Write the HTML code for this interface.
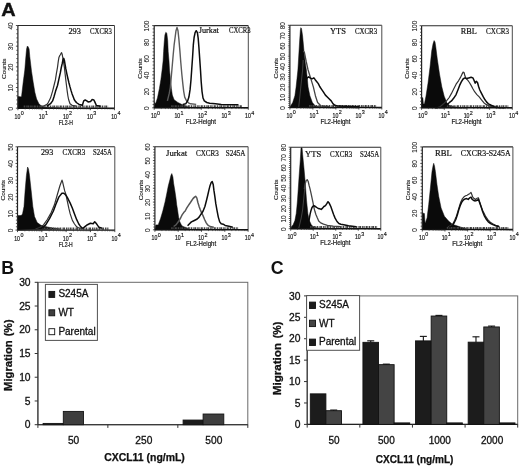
<!DOCTYPE html>
<html><head><meta charset="utf-8"><style>
html,body{margin:0;padding:0;background:#fff;}
svg{display:block;will-change:transform;}
text{-webkit-font-smoothing:antialiased;}
</style></head><body>
<svg width="520" height="466" viewBox="0 0 520 466">
<rect width="520" height="466" fill="#fff"/>
<g>
<polygon points="17.9,108.2 17.9,96.5 20.5,96.8 21.5,96.8 23.2,82.3 24.8,70.0 25.6,60.0 26.2,53.0 26.6,49.0 27.2,46.5 27.5,46.1 28.1,46.7 29.1,49.0 29.8,56.7 31.5,71.2 33.2,82.3 34.9,92.4 36.6,99.0 38.8,103.5 41.6,106.3 45.0,107.3 60.0,108.2" fill="#0a0a0a" stroke="#0a0a0a" stroke-width="0.5"/>
<polyline points="40.0,106.5 44.2,105.8 47.0,104.4 48.4,102.3 50.5,98.1 52.6,91.1 54.0,85.5 55.4,79.9 56.5,72.9 57.5,67.3 58.2,61.8 58.9,57.6 59.6,55.9 60.3,54.8 60.9,53.7 61.6,52.7 62.3,54.8 63.0,59.0 63.7,63.2 64.4,67.3 65.1,73.6 65.8,79.9 66.5,85.5 67.2,91.1 67.9,96.0 68.6,99.5 70.0,103.7 72.1,105.3 76.3,106.2" fill="none" stroke="#333" stroke-width="1.2" stroke-linejoin="round"/>
<line x1="23.7" y1="106.7" x2="108.3" y2="106.7" stroke="#444" stroke-width="2.2" stroke-dasharray="1.5 0.7 0.8 0.6 2 0.9"/>
<polyline points="47.0,106.2 50.5,103.7 52.6,100.9 54.0,96.7 55.6,91.1 57.5,85.5 58.9,79.2 60.3,72.9 61.2,68.0 62.3,63.2 63.0,59.7 63.7,58.3 64.4,60.4 65.1,64.6 65.8,68.7 66.8,73.6 67.9,78.5 68.9,82.7 70.0,86.9 71.0,90.4 72.1,93.9 73.2,96.7 74.2,99.5 75.6,101.6 77.0,103.0 79.1,104.4 81.9,105.1 82.3,105.5 83.7,100.9 85.2,100.0 86.8,100.9 88.1,101.9 90.6,101.5 92.0,99.6 93.9,100.0 94.8,101.9 96.4,105.5 100.6,106.3" fill="none" stroke="#0c0c0c" stroke-width="1.5" stroke-linejoin="round"/>
</g>
<line x1="17.9" y1="25.5" x2="114.5" y2="25.5" stroke="#2a2a2a" stroke-width="1.1"/>
<line x1="114.5" y1="25.5" x2="114.5" y2="108.2" stroke="#4a4a4a" stroke-width="1"/>
<line x1="17.9" y1="25.5" x2="17.9" y2="108.2" stroke="#222" stroke-width="1.2"/>
<line x1="17.9" y1="108.2" x2="114.5" y2="108.2" stroke="#111" stroke-width="1.4"/>
<line x1="15.899999999999999" y1="108.20" x2="17.9" y2="108.20" stroke="#222" stroke-width="0.8"/>
<text transform="translate(12.90,108.60) rotate(-90)" text-anchor="middle" font-family="Liberation Sans, sans-serif" font-size="6.5" fill="#1a1a1a" stroke="#1a1a1a" stroke-width="0.08">0</text>
<line x1="16.299999999999997" y1="104.06" x2="17.9" y2="104.06" stroke="#333" stroke-width="0.8"/>
<line x1="16.299999999999997" y1="99.93" x2="17.9" y2="99.93" stroke="#333" stroke-width="0.8"/>
<line x1="16.299999999999997" y1="95.80" x2="17.9" y2="95.80" stroke="#333" stroke-width="0.8"/>
<line x1="16.299999999999997" y1="91.66" x2="17.9" y2="91.66" stroke="#333" stroke-width="0.8"/>
<line x1="15.899999999999999" y1="87.53" x2="17.9" y2="87.53" stroke="#222" stroke-width="0.8"/>
<text transform="translate(12.90,87.93) rotate(-90)" text-anchor="middle" font-family="Liberation Sans, sans-serif" font-size="6.5" fill="#1a1a1a" stroke="#1a1a1a" stroke-width="0.08">10</text>
<line x1="16.299999999999997" y1="83.39" x2="17.9" y2="83.39" stroke="#333" stroke-width="0.8"/>
<line x1="16.299999999999997" y1="79.26" x2="17.9" y2="79.26" stroke="#333" stroke-width="0.8"/>
<line x1="16.299999999999997" y1="75.12" x2="17.9" y2="75.12" stroke="#333" stroke-width="0.8"/>
<line x1="16.299999999999997" y1="70.99" x2="17.9" y2="70.99" stroke="#333" stroke-width="0.8"/>
<line x1="15.899999999999999" y1="66.85" x2="17.9" y2="66.85" stroke="#222" stroke-width="0.8"/>
<text transform="translate(12.90,67.25) rotate(-90)" text-anchor="middle" font-family="Liberation Sans, sans-serif" font-size="6.5" fill="#1a1a1a" stroke="#1a1a1a" stroke-width="0.08">20</text>
<line x1="16.299999999999997" y1="62.71" x2="17.9" y2="62.71" stroke="#333" stroke-width="0.8"/>
<line x1="16.299999999999997" y1="58.58" x2="17.9" y2="58.58" stroke="#333" stroke-width="0.8"/>
<line x1="16.299999999999997" y1="54.44" x2="17.9" y2="54.44" stroke="#333" stroke-width="0.8"/>
<line x1="16.299999999999997" y1="50.31" x2="17.9" y2="50.31" stroke="#333" stroke-width="0.8"/>
<line x1="15.899999999999999" y1="46.17" x2="17.9" y2="46.17" stroke="#222" stroke-width="0.8"/>
<text transform="translate(12.90,46.57) rotate(-90)" text-anchor="middle" font-family="Liberation Sans, sans-serif" font-size="6.5" fill="#1a1a1a" stroke="#1a1a1a" stroke-width="0.08">30</text>
<line x1="16.299999999999997" y1="42.04" x2="17.9" y2="42.04" stroke="#333" stroke-width="0.8"/>
<line x1="16.299999999999997" y1="37.91" x2="17.9" y2="37.91" stroke="#333" stroke-width="0.8"/>
<line x1="16.299999999999997" y1="33.77" x2="17.9" y2="33.77" stroke="#333" stroke-width="0.8"/>
<line x1="16.299999999999997" y1="29.63" x2="17.9" y2="29.63" stroke="#333" stroke-width="0.8"/>
<line x1="15.899999999999999" y1="25.50" x2="17.9" y2="25.50" stroke="#222" stroke-width="0.8"/>
<text transform="translate(12.90,25.90) rotate(-90)" text-anchor="middle" font-family="Liberation Sans, sans-serif" font-size="6.5" fill="#1a1a1a" stroke="#1a1a1a" stroke-width="0.08">40</text>
<text transform="translate(5.60,68.65) rotate(-90)" text-anchor="middle" font-family="Liberation Sans, sans-serif" font-size="5.7" fill="#1a1a1a" stroke="#1a1a1a" stroke-width="0.12" textLength="20.5" lengthAdjust="spacingAndGlyphs">Counts</text>
<line x1="17.90" y1="108.2" x2="17.90" y2="110.2" stroke="#222" stroke-width="0.8"/>
<text x="17.50" y="118.70" text-anchor="middle" font-family="Liberation Sans, sans-serif" font-size="7.4" fill="#111" stroke="#111" stroke-width="0.2" textLength="5.8" lengthAdjust="spacingAndGlyphs">10</text>
<text x="20.80" y="115.10" font-family="Liberation Sans, sans-serif" font-size="5.4" fill="#111" stroke="#111" stroke-width="0.15">0</text>
<line x1="25.17" y1="108.2" x2="25.17" y2="109.5" stroke="#333" stroke-width="0.6"/>
<line x1="29.42" y1="108.2" x2="29.42" y2="109.5" stroke="#333" stroke-width="0.6"/>
<line x1="32.44" y1="108.2" x2="32.44" y2="109.5" stroke="#333" stroke-width="0.6"/>
<line x1="34.78" y1="108.2" x2="34.78" y2="109.5" stroke="#333" stroke-width="0.6"/>
<line x1="36.69" y1="108.2" x2="36.69" y2="109.5" stroke="#333" stroke-width="0.6"/>
<line x1="38.31" y1="108.2" x2="38.31" y2="109.5" stroke="#333" stroke-width="0.6"/>
<line x1="39.71" y1="108.2" x2="39.71" y2="109.5" stroke="#333" stroke-width="0.6"/>
<line x1="40.94" y1="108.2" x2="40.94" y2="109.5" stroke="#333" stroke-width="0.6"/>
<line x1="42.05" y1="108.2" x2="42.05" y2="110.2" stroke="#222" stroke-width="0.8"/>
<text x="41.65" y="118.70" text-anchor="middle" font-family="Liberation Sans, sans-serif" font-size="7.4" fill="#111" stroke="#111" stroke-width="0.2" textLength="5.8" lengthAdjust="spacingAndGlyphs">10</text>
<text x="44.95" y="115.10" font-family="Liberation Sans, sans-serif" font-size="5.4" fill="#111" stroke="#111" stroke-width="0.15">1</text>
<line x1="49.32" y1="108.2" x2="49.32" y2="109.5" stroke="#333" stroke-width="0.6"/>
<line x1="53.57" y1="108.2" x2="53.57" y2="109.5" stroke="#333" stroke-width="0.6"/>
<line x1="56.59" y1="108.2" x2="56.59" y2="109.5" stroke="#333" stroke-width="0.6"/>
<line x1="58.93" y1="108.2" x2="58.93" y2="109.5" stroke="#333" stroke-width="0.6"/>
<line x1="60.84" y1="108.2" x2="60.84" y2="109.5" stroke="#333" stroke-width="0.6"/>
<line x1="62.46" y1="108.2" x2="62.46" y2="109.5" stroke="#333" stroke-width="0.6"/>
<line x1="63.86" y1="108.2" x2="63.86" y2="109.5" stroke="#333" stroke-width="0.6"/>
<line x1="65.09" y1="108.2" x2="65.09" y2="109.5" stroke="#333" stroke-width="0.6"/>
<line x1="66.20" y1="108.2" x2="66.20" y2="110.2" stroke="#222" stroke-width="0.8"/>
<text x="65.80" y="118.70" text-anchor="middle" font-family="Liberation Sans, sans-serif" font-size="7.4" fill="#111" stroke="#111" stroke-width="0.2" textLength="5.8" lengthAdjust="spacingAndGlyphs">10</text>
<text x="69.10" y="115.10" font-family="Liberation Sans, sans-serif" font-size="5.4" fill="#111" stroke="#111" stroke-width="0.15">2</text>
<line x1="73.47" y1="108.2" x2="73.47" y2="109.5" stroke="#333" stroke-width="0.6"/>
<line x1="77.72" y1="108.2" x2="77.72" y2="109.5" stroke="#333" stroke-width="0.6"/>
<line x1="80.74" y1="108.2" x2="80.74" y2="109.5" stroke="#333" stroke-width="0.6"/>
<line x1="83.08" y1="108.2" x2="83.08" y2="109.5" stroke="#333" stroke-width="0.6"/>
<line x1="84.99" y1="108.2" x2="84.99" y2="109.5" stroke="#333" stroke-width="0.6"/>
<line x1="86.61" y1="108.2" x2="86.61" y2="109.5" stroke="#333" stroke-width="0.6"/>
<line x1="88.01" y1="108.2" x2="88.01" y2="109.5" stroke="#333" stroke-width="0.6"/>
<line x1="89.24" y1="108.2" x2="89.24" y2="109.5" stroke="#333" stroke-width="0.6"/>
<line x1="90.35" y1="108.2" x2="90.35" y2="110.2" stroke="#222" stroke-width="0.8"/>
<text x="89.95" y="118.70" text-anchor="middle" font-family="Liberation Sans, sans-serif" font-size="7.4" fill="#111" stroke="#111" stroke-width="0.2" textLength="5.8" lengthAdjust="spacingAndGlyphs">10</text>
<text x="93.25" y="115.10" font-family="Liberation Sans, sans-serif" font-size="5.4" fill="#111" stroke="#111" stroke-width="0.15">3</text>
<line x1="97.62" y1="108.2" x2="97.62" y2="109.5" stroke="#333" stroke-width="0.6"/>
<line x1="101.87" y1="108.2" x2="101.87" y2="109.5" stroke="#333" stroke-width="0.6"/>
<line x1="104.89" y1="108.2" x2="104.89" y2="109.5" stroke="#333" stroke-width="0.6"/>
<line x1="107.23" y1="108.2" x2="107.23" y2="109.5" stroke="#333" stroke-width="0.6"/>
<line x1="109.14" y1="108.2" x2="109.14" y2="109.5" stroke="#333" stroke-width="0.6"/>
<line x1="110.76" y1="108.2" x2="110.76" y2="109.5" stroke="#333" stroke-width="0.6"/>
<line x1="112.16" y1="108.2" x2="112.16" y2="109.5" stroke="#333" stroke-width="0.6"/>
<line x1="113.39" y1="108.2" x2="113.39" y2="109.5" stroke="#333" stroke-width="0.6"/>
<line x1="114.50" y1="108.2" x2="114.50" y2="110.2" stroke="#222" stroke-width="0.8"/>
<text x="114.10" y="118.70" text-anchor="middle" font-family="Liberation Sans, sans-serif" font-size="7.4" fill="#111" stroke="#111" stroke-width="0.2" textLength="5.8" lengthAdjust="spacingAndGlyphs">10</text>
<text x="117.40" y="115.10" font-family="Liberation Sans, sans-serif" font-size="5.4" fill="#111" stroke="#111" stroke-width="0.15">4</text>
<text x="65.80" y="124.60" text-anchor="middle" font-family="Liberation Sans, sans-serif" font-size="6.4" fill="#1a1a1a" stroke="#1a1a1a" stroke-width="0.2" textLength="14" lengthAdjust="spacingAndGlyphs">FL2-H</text>
<text x="68.4" y="34.1" font-family="Liberation Serif, serif" font-size="8.4" fill="#111" stroke="#111" stroke-width="0.2" textLength="12.5" lengthAdjust="spacingAndGlyphs">293</text>
<text x="90" y="34.1" font-family="Liberation Serif, serif" font-size="8.4" fill="#111" stroke="#111" stroke-width="0.2" textLength="21.8" lengthAdjust="spacingAndGlyphs">CXCR3</text>
<g>
<polygon points="154.2,107.8 154.6,102.4 155.7,103.4 157.5,97.8 159.4,88.6 160.9,79.4 162.1,70.1 163.1,60.9 163.6,51.7 164.2,42.5 164.9,35.1 165.8,32.3 166.8,33.2 167.7,40.6 168.2,51.7 169.0,60.9 169.5,70.1 170.5,79.4 171.4,88.6 172.3,95.0 174.1,99.7 177.8,102.4 181.5,104.3 190.0,107.8" fill="#0a0a0a" stroke="#0a0a0a" stroke-width="0.5"/>
<polyline points="167.4,100.9 169.3,93.2 170.3,87.5 171.2,77.8 172.2,66.3 173.2,54.8 174.1,45.2 175.1,37.5 176.0,30.7 177.0,27.5 178.0,30.7 178.9,39.4 179.9,50.9 180.8,62.5 181.8,74.0 182.8,83.6 183.7,91.3 184.7,97.1 186.6,100.9 188.5,102.8 190.5,103.8 196.2,104.4" fill="none" stroke="#5a5a5a" stroke-width="1.4" stroke-linejoin="round"/>
<line x1="171.2" y1="106.3" x2="242.4" y2="106.3" stroke="#444" stroke-width="2.2" stroke-dasharray="1.5 0.7 0.8 0.6 2 0.9"/>
<polyline points="182.8,104.4 185.7,103.8 187.6,100.9 188.9,97.1 190.1,89.4 191.0,79.8 191.8,68.2 192.6,56.7 193.3,45.2 194.1,37.5 195.1,32.7 196.2,30.7 197.4,32.7 198.2,38.4 198.9,47.1 199.7,58.6 200.5,70.2 201.2,81.7 202.0,91.3 203.0,98.0 204.3,100.9 206.8,102.5 209.7,103.2 215.5,103.8 221.2,104.4 238.5,104.8" fill="none" stroke="#0c0c0c" stroke-width="1.5" stroke-linejoin="round"/>
</g>
<line x1="154.2" y1="25.6" x2="248.3" y2="25.6" stroke="#2a2a2a" stroke-width="1.1"/>
<line x1="248.3" y1="25.6" x2="248.3" y2="107.8" stroke="#4a4a4a" stroke-width="1"/>
<line x1="154.2" y1="25.6" x2="154.2" y2="107.8" stroke="#222" stroke-width="1.2"/>
<line x1="154.2" y1="107.8" x2="248.3" y2="107.8" stroke="#111" stroke-width="1.4"/>
<line x1="152.2" y1="107.80" x2="154.2" y2="107.80" stroke="#222" stroke-width="0.8"/>
<text transform="translate(149.20,108.20) rotate(-90)" text-anchor="middle" font-family="Liberation Sans, sans-serif" font-size="6.5" fill="#1a1a1a" stroke="#1a1a1a" stroke-width="0.08">0</text>
<line x1="152.6" y1="104.51" x2="154.2" y2="104.51" stroke="#333" stroke-width="0.8"/>
<line x1="152.6" y1="101.22" x2="154.2" y2="101.22" stroke="#333" stroke-width="0.8"/>
<line x1="152.6" y1="97.94" x2="154.2" y2="97.94" stroke="#333" stroke-width="0.8"/>
<line x1="152.6" y1="94.65" x2="154.2" y2="94.65" stroke="#333" stroke-width="0.8"/>
<line x1="152.2" y1="91.36" x2="154.2" y2="91.36" stroke="#222" stroke-width="0.8"/>
<text transform="translate(149.20,91.76) rotate(-90)" text-anchor="middle" font-family="Liberation Sans, sans-serif" font-size="6.5" fill="#1a1a1a" stroke="#1a1a1a" stroke-width="0.08">20</text>
<line x1="152.6" y1="88.07" x2="154.2" y2="88.07" stroke="#333" stroke-width="0.8"/>
<line x1="152.6" y1="84.78" x2="154.2" y2="84.78" stroke="#333" stroke-width="0.8"/>
<line x1="152.6" y1="81.50" x2="154.2" y2="81.50" stroke="#333" stroke-width="0.8"/>
<line x1="152.6" y1="78.21" x2="154.2" y2="78.21" stroke="#333" stroke-width="0.8"/>
<line x1="152.2" y1="74.92" x2="154.2" y2="74.92" stroke="#222" stroke-width="0.8"/>
<text transform="translate(149.20,75.32) rotate(-90)" text-anchor="middle" font-family="Liberation Sans, sans-serif" font-size="6.5" fill="#1a1a1a" stroke="#1a1a1a" stroke-width="0.08">40</text>
<line x1="152.6" y1="71.63" x2="154.2" y2="71.63" stroke="#333" stroke-width="0.8"/>
<line x1="152.6" y1="68.34" x2="154.2" y2="68.34" stroke="#333" stroke-width="0.8"/>
<line x1="152.6" y1="65.06" x2="154.2" y2="65.06" stroke="#333" stroke-width="0.8"/>
<line x1="152.6" y1="61.77" x2="154.2" y2="61.77" stroke="#333" stroke-width="0.8"/>
<line x1="152.2" y1="58.48" x2="154.2" y2="58.48" stroke="#222" stroke-width="0.8"/>
<text transform="translate(149.20,58.88) rotate(-90)" text-anchor="middle" font-family="Liberation Sans, sans-serif" font-size="6.5" fill="#1a1a1a" stroke="#1a1a1a" stroke-width="0.08">60</text>
<line x1="152.6" y1="55.19" x2="154.2" y2="55.19" stroke="#333" stroke-width="0.8"/>
<line x1="152.6" y1="51.90" x2="154.2" y2="51.90" stroke="#333" stroke-width="0.8"/>
<line x1="152.6" y1="48.62" x2="154.2" y2="48.62" stroke="#333" stroke-width="0.8"/>
<line x1="152.6" y1="45.33" x2="154.2" y2="45.33" stroke="#333" stroke-width="0.8"/>
<line x1="152.2" y1="42.04" x2="154.2" y2="42.04" stroke="#222" stroke-width="0.8"/>
<text transform="translate(149.20,42.44) rotate(-90)" text-anchor="middle" font-family="Liberation Sans, sans-serif" font-size="6.5" fill="#1a1a1a" stroke="#1a1a1a" stroke-width="0.08">80</text>
<line x1="152.6" y1="38.75" x2="154.2" y2="38.75" stroke="#333" stroke-width="0.8"/>
<line x1="152.6" y1="35.46" x2="154.2" y2="35.46" stroke="#333" stroke-width="0.8"/>
<line x1="152.6" y1="32.18" x2="154.2" y2="32.18" stroke="#333" stroke-width="0.8"/>
<line x1="152.6" y1="28.89" x2="154.2" y2="28.89" stroke="#333" stroke-width="0.8"/>
<line x1="152.2" y1="25.60" x2="154.2" y2="25.60" stroke="#222" stroke-width="0.8"/>
<text transform="translate(149.20,26.00) rotate(-90)" text-anchor="middle" font-family="Liberation Sans, sans-serif" font-size="6.5" fill="#1a1a1a" stroke="#1a1a1a" stroke-width="0.08">100</text>
<text transform="translate(141.90,68.50) rotate(-90)" text-anchor="middle" font-family="Liberation Sans, sans-serif" font-size="5.7" fill="#1a1a1a" stroke="#1a1a1a" stroke-width="0.12" textLength="20.5" lengthAdjust="spacingAndGlyphs">Counts</text>
<line x1="154.20" y1="107.8" x2="154.20" y2="109.8" stroke="#222" stroke-width="0.8"/>
<text x="153.80" y="118.30" text-anchor="middle" font-family="Liberation Sans, sans-serif" font-size="7.4" fill="#111" stroke="#111" stroke-width="0.2" textLength="5.8" lengthAdjust="spacingAndGlyphs">10</text>
<text x="157.10" y="114.70" font-family="Liberation Sans, sans-serif" font-size="5.4" fill="#111" stroke="#111" stroke-width="0.15">0</text>
<line x1="161.28" y1="107.8" x2="161.28" y2="109.1" stroke="#333" stroke-width="0.6"/>
<line x1="165.42" y1="107.8" x2="165.42" y2="109.1" stroke="#333" stroke-width="0.6"/>
<line x1="168.36" y1="107.8" x2="168.36" y2="109.1" stroke="#333" stroke-width="0.6"/>
<line x1="170.64" y1="107.8" x2="170.64" y2="109.1" stroke="#333" stroke-width="0.6"/>
<line x1="172.51" y1="107.8" x2="172.51" y2="109.1" stroke="#333" stroke-width="0.6"/>
<line x1="174.08" y1="107.8" x2="174.08" y2="109.1" stroke="#333" stroke-width="0.6"/>
<line x1="175.45" y1="107.8" x2="175.45" y2="109.1" stroke="#333" stroke-width="0.6"/>
<line x1="176.65" y1="107.8" x2="176.65" y2="109.1" stroke="#333" stroke-width="0.6"/>
<line x1="177.72" y1="107.8" x2="177.72" y2="109.8" stroke="#222" stroke-width="0.8"/>
<text x="177.32" y="118.30" text-anchor="middle" font-family="Liberation Sans, sans-serif" font-size="7.4" fill="#111" stroke="#111" stroke-width="0.2" textLength="5.8" lengthAdjust="spacingAndGlyphs">10</text>
<text x="180.62" y="114.70" font-family="Liberation Sans, sans-serif" font-size="5.4" fill="#111" stroke="#111" stroke-width="0.15">1</text>
<line x1="184.81" y1="107.8" x2="184.81" y2="109.1" stroke="#333" stroke-width="0.6"/>
<line x1="188.95" y1="107.8" x2="188.95" y2="109.1" stroke="#333" stroke-width="0.6"/>
<line x1="191.89" y1="107.8" x2="191.89" y2="109.1" stroke="#333" stroke-width="0.6"/>
<line x1="194.17" y1="107.8" x2="194.17" y2="109.1" stroke="#333" stroke-width="0.6"/>
<line x1="196.03" y1="107.8" x2="196.03" y2="109.1" stroke="#333" stroke-width="0.6"/>
<line x1="197.61" y1="107.8" x2="197.61" y2="109.1" stroke="#333" stroke-width="0.6"/>
<line x1="198.97" y1="107.8" x2="198.97" y2="109.1" stroke="#333" stroke-width="0.6"/>
<line x1="200.17" y1="107.8" x2="200.17" y2="109.1" stroke="#333" stroke-width="0.6"/>
<line x1="201.25" y1="107.8" x2="201.25" y2="109.8" stroke="#222" stroke-width="0.8"/>
<text x="200.85" y="118.30" text-anchor="middle" font-family="Liberation Sans, sans-serif" font-size="7.4" fill="#111" stroke="#111" stroke-width="0.2" textLength="5.8" lengthAdjust="spacingAndGlyphs">10</text>
<text x="204.15" y="114.70" font-family="Liberation Sans, sans-serif" font-size="5.4" fill="#111" stroke="#111" stroke-width="0.15">2</text>
<line x1="208.33" y1="107.8" x2="208.33" y2="109.1" stroke="#333" stroke-width="0.6"/>
<line x1="212.47" y1="107.8" x2="212.47" y2="109.1" stroke="#333" stroke-width="0.6"/>
<line x1="215.41" y1="107.8" x2="215.41" y2="109.1" stroke="#333" stroke-width="0.6"/>
<line x1="217.69" y1="107.8" x2="217.69" y2="109.1" stroke="#333" stroke-width="0.6"/>
<line x1="219.56" y1="107.8" x2="219.56" y2="109.1" stroke="#333" stroke-width="0.6"/>
<line x1="221.13" y1="107.8" x2="221.13" y2="109.1" stroke="#333" stroke-width="0.6"/>
<line x1="222.50" y1="107.8" x2="222.50" y2="109.1" stroke="#333" stroke-width="0.6"/>
<line x1="223.70" y1="107.8" x2="223.70" y2="109.1" stroke="#333" stroke-width="0.6"/>
<line x1="224.78" y1="107.8" x2="224.78" y2="109.8" stroke="#222" stroke-width="0.8"/>
<text x="224.38" y="118.30" text-anchor="middle" font-family="Liberation Sans, sans-serif" font-size="7.4" fill="#111" stroke="#111" stroke-width="0.2" textLength="5.8" lengthAdjust="spacingAndGlyphs">10</text>
<text x="227.68" y="114.70" font-family="Liberation Sans, sans-serif" font-size="5.4" fill="#111" stroke="#111" stroke-width="0.15">3</text>
<line x1="231.86" y1="107.8" x2="231.86" y2="109.1" stroke="#333" stroke-width="0.6"/>
<line x1="236.00" y1="107.8" x2="236.00" y2="109.1" stroke="#333" stroke-width="0.6"/>
<line x1="238.94" y1="107.8" x2="238.94" y2="109.1" stroke="#333" stroke-width="0.6"/>
<line x1="241.22" y1="107.8" x2="241.22" y2="109.1" stroke="#333" stroke-width="0.6"/>
<line x1="243.08" y1="107.8" x2="243.08" y2="109.1" stroke="#333" stroke-width="0.6"/>
<line x1="244.66" y1="107.8" x2="244.66" y2="109.1" stroke="#333" stroke-width="0.6"/>
<line x1="246.02" y1="107.8" x2="246.02" y2="109.1" stroke="#333" stroke-width="0.6"/>
<line x1="247.22" y1="107.8" x2="247.22" y2="109.1" stroke="#333" stroke-width="0.6"/>
<line x1="248.30" y1="107.8" x2="248.30" y2="109.8" stroke="#222" stroke-width="0.8"/>
<text x="247.90" y="118.30" text-anchor="middle" font-family="Liberation Sans, sans-serif" font-size="7.4" fill="#111" stroke="#111" stroke-width="0.2" textLength="5.8" lengthAdjust="spacingAndGlyphs">10</text>
<text x="251.20" y="114.70" font-family="Liberation Sans, sans-serif" font-size="5.4" fill="#111" stroke="#111" stroke-width="0.15">4</text>
<text x="200.85" y="124.20" text-anchor="middle" font-family="Liberation Sans, sans-serif" font-size="6.4" fill="#1a1a1a" stroke="#1a1a1a" stroke-width="0.2" textLength="30" lengthAdjust="spacingAndGlyphs">FL2-Height</text>
<text x="198.7" y="32.8" font-family="Liberation Serif, serif" font-size="8.4" fill="#111" stroke="#111" stroke-width="0.2" textLength="20.2" lengthAdjust="spacingAndGlyphs">Jurkat</text>
<text x="229" y="32.8" font-family="Liberation Serif, serif" font-size="8.4" fill="#111" stroke="#111" stroke-width="0.2" textLength="21.6" lengthAdjust="spacingAndGlyphs">CXCR3</text>
<g>
<polygon points="289.9,107.5 290.6,106.0 292.7,102.6 294.9,95.7 296.1,87.1 297.0,78.6 297.9,70.0 298.8,55.0 299.7,40.0 300.4,30.0 300.8,27.7 301.5,28.5 302.6,36.0 304.1,52.4 305.3,63.0 306.4,70.0 307.3,78.6 308.1,87.1 309.9,95.7 312.4,102.6 315.4,106.0 320.0,107.0 325.0,107.5" fill="#0a0a0a" stroke="#0a0a0a" stroke-width="0.5"/>
<polyline points="303.3,50.8 304.4,52.4 306.2,61.5 308.1,70.0 309.4,74.3 310.8,78.6 313.4,87.1 315.4,95.7 317.6,102.5 320.8,105.8 330.0,107.0" fill="none" stroke="#444" stroke-width="1.3" stroke-linejoin="round"/>
<polyline points="303.2,60.0 302.6,70.0 301.5,80.0 300.5,90.0 299.5,100.0 298.7,107.0" fill="none" stroke="#505050" stroke-width="0.8" stroke-linejoin="round"/>
<line x1="309.1" y1="106.0" x2="376.4" y2="106.0" stroke="#444" stroke-width="2.2" stroke-dasharray="1.5 0.7 0.8 0.6 2 0.9"/>
<polyline points="304.8,99.9 305.2,86.5 306.0,80.7 307.2,77.8 308.7,76.8 310.0,77.8 312.0,78.8 313.9,77.8 315.2,79.7 316.8,81.7 318.3,83.6 319.7,86.5 321.6,89.3 323.5,92.2 325.4,95.1 327.3,97.0 329.3,99.0 331.2,100.9 333.1,103.8 335.0,105.3 337.9,106.1 359.1,106.7" fill="none" stroke="#0c0c0c" stroke-width="1.5" stroke-linejoin="round"/>
</g>
<line x1="289.9" y1="25.3" x2="381.8" y2="25.3" stroke="#2a2a2a" stroke-width="1.1"/>
<line x1="381.8" y1="25.3" x2="381.8" y2="107.5" stroke="#4a4a4a" stroke-width="1"/>
<line x1="289.9" y1="25.3" x2="289.9" y2="107.5" stroke="#222" stroke-width="1.2"/>
<line x1="289.9" y1="107.5" x2="381.8" y2="107.5" stroke="#111" stroke-width="1.4"/>
<line x1="287.9" y1="107.50" x2="289.9" y2="107.50" stroke="#222" stroke-width="0.8"/>
<text transform="translate(284.90,107.90) rotate(-90)" text-anchor="middle" font-family="Liberation Sans, sans-serif" font-size="6.5" fill="#1a1a1a" stroke="#1a1a1a" stroke-width="0.08">0</text>
<line x1="288.29999999999995" y1="105.44" x2="289.9" y2="105.44" stroke="#333" stroke-width="0.8"/>
<line x1="288.29999999999995" y1="103.39" x2="289.9" y2="103.39" stroke="#333" stroke-width="0.8"/>
<line x1="288.29999999999995" y1="101.33" x2="289.9" y2="101.33" stroke="#333" stroke-width="0.8"/>
<line x1="288.29999999999995" y1="99.28" x2="289.9" y2="99.28" stroke="#333" stroke-width="0.8"/>
<line x1="287.9" y1="97.22" x2="289.9" y2="97.22" stroke="#222" stroke-width="0.8"/>
<text transform="translate(284.90,97.62) rotate(-90)" text-anchor="middle" font-family="Liberation Sans, sans-serif" font-size="6.5" fill="#1a1a1a" stroke="#1a1a1a" stroke-width="0.08">10</text>
<line x1="288.29999999999995" y1="95.17" x2="289.9" y2="95.17" stroke="#333" stroke-width="0.8"/>
<line x1="288.29999999999995" y1="93.11" x2="289.9" y2="93.11" stroke="#333" stroke-width="0.8"/>
<line x1="288.29999999999995" y1="91.06" x2="289.9" y2="91.06" stroke="#333" stroke-width="0.8"/>
<line x1="288.29999999999995" y1="89.00" x2="289.9" y2="89.00" stroke="#333" stroke-width="0.8"/>
<line x1="287.9" y1="86.95" x2="289.9" y2="86.95" stroke="#222" stroke-width="0.8"/>
<text transform="translate(284.90,87.35) rotate(-90)" text-anchor="middle" font-family="Liberation Sans, sans-serif" font-size="6.5" fill="#1a1a1a" stroke="#1a1a1a" stroke-width="0.08">20</text>
<line x1="288.29999999999995" y1="84.89" x2="289.9" y2="84.89" stroke="#333" stroke-width="0.8"/>
<line x1="288.29999999999995" y1="82.84" x2="289.9" y2="82.84" stroke="#333" stroke-width="0.8"/>
<line x1="288.29999999999995" y1="80.78" x2="289.9" y2="80.78" stroke="#333" stroke-width="0.8"/>
<line x1="288.29999999999995" y1="78.73" x2="289.9" y2="78.73" stroke="#333" stroke-width="0.8"/>
<line x1="287.9" y1="76.67" x2="289.9" y2="76.67" stroke="#222" stroke-width="0.8"/>
<text transform="translate(284.90,77.08) rotate(-90)" text-anchor="middle" font-family="Liberation Sans, sans-serif" font-size="6.5" fill="#1a1a1a" stroke="#1a1a1a" stroke-width="0.08">30</text>
<line x1="288.29999999999995" y1="74.62" x2="289.9" y2="74.62" stroke="#333" stroke-width="0.8"/>
<line x1="288.29999999999995" y1="72.56" x2="289.9" y2="72.56" stroke="#333" stroke-width="0.8"/>
<line x1="288.29999999999995" y1="70.51" x2="289.9" y2="70.51" stroke="#333" stroke-width="0.8"/>
<line x1="288.29999999999995" y1="68.45" x2="289.9" y2="68.45" stroke="#333" stroke-width="0.8"/>
<line x1="287.9" y1="66.40" x2="289.9" y2="66.40" stroke="#222" stroke-width="0.8"/>
<text transform="translate(284.90,66.80) rotate(-90)" text-anchor="middle" font-family="Liberation Sans, sans-serif" font-size="6.5" fill="#1a1a1a" stroke="#1a1a1a" stroke-width="0.08">40</text>
<line x1="288.29999999999995" y1="64.34" x2="289.9" y2="64.34" stroke="#333" stroke-width="0.8"/>
<line x1="288.29999999999995" y1="62.29" x2="289.9" y2="62.29" stroke="#333" stroke-width="0.8"/>
<line x1="288.29999999999995" y1="60.24" x2="289.9" y2="60.24" stroke="#333" stroke-width="0.8"/>
<line x1="288.29999999999995" y1="58.18" x2="289.9" y2="58.18" stroke="#333" stroke-width="0.8"/>
<line x1="287.9" y1="56.12" x2="289.9" y2="56.12" stroke="#222" stroke-width="0.8"/>
<text transform="translate(284.90,56.52) rotate(-90)" text-anchor="middle" font-family="Liberation Sans, sans-serif" font-size="6.5" fill="#1a1a1a" stroke="#1a1a1a" stroke-width="0.08">50</text>
<line x1="288.29999999999995" y1="54.07" x2="289.9" y2="54.07" stroke="#333" stroke-width="0.8"/>
<line x1="288.29999999999995" y1="52.02" x2="289.9" y2="52.02" stroke="#333" stroke-width="0.8"/>
<line x1="288.29999999999995" y1="49.96" x2="289.9" y2="49.96" stroke="#333" stroke-width="0.8"/>
<line x1="288.29999999999995" y1="47.91" x2="289.9" y2="47.91" stroke="#333" stroke-width="0.8"/>
<line x1="287.9" y1="45.85" x2="289.9" y2="45.85" stroke="#222" stroke-width="0.8"/>
<text transform="translate(284.90,46.25) rotate(-90)" text-anchor="middle" font-family="Liberation Sans, sans-serif" font-size="6.5" fill="#1a1a1a" stroke="#1a1a1a" stroke-width="0.08">60</text>
<line x1="288.29999999999995" y1="43.79" x2="289.9" y2="43.79" stroke="#333" stroke-width="0.8"/>
<line x1="288.29999999999995" y1="41.74" x2="289.9" y2="41.74" stroke="#333" stroke-width="0.8"/>
<line x1="288.29999999999995" y1="39.68" x2="289.9" y2="39.68" stroke="#333" stroke-width="0.8"/>
<line x1="288.29999999999995" y1="37.63" x2="289.9" y2="37.63" stroke="#333" stroke-width="0.8"/>
<line x1="287.9" y1="35.58" x2="289.9" y2="35.58" stroke="#222" stroke-width="0.8"/>
<text transform="translate(284.90,35.98) rotate(-90)" text-anchor="middle" font-family="Liberation Sans, sans-serif" font-size="6.5" fill="#1a1a1a" stroke="#1a1a1a" stroke-width="0.08">70</text>
<line x1="288.29999999999995" y1="33.52" x2="289.9" y2="33.52" stroke="#333" stroke-width="0.8"/>
<line x1="288.29999999999995" y1="31.47" x2="289.9" y2="31.47" stroke="#333" stroke-width="0.8"/>
<line x1="288.29999999999995" y1="29.41" x2="289.9" y2="29.41" stroke="#333" stroke-width="0.8"/>
<line x1="288.29999999999995" y1="27.36" x2="289.9" y2="27.36" stroke="#333" stroke-width="0.8"/>
<line x1="287.9" y1="25.30" x2="289.9" y2="25.30" stroke="#222" stroke-width="0.8"/>
<text transform="translate(284.90,25.70) rotate(-90)" text-anchor="middle" font-family="Liberation Sans, sans-serif" font-size="6.5" fill="#1a1a1a" stroke="#1a1a1a" stroke-width="0.08">80</text>
<text transform="translate(277.60,68.20) rotate(-90)" text-anchor="middle" font-family="Liberation Sans, sans-serif" font-size="5.7" fill="#1a1a1a" stroke="#1a1a1a" stroke-width="0.12" textLength="20.5" lengthAdjust="spacingAndGlyphs">Counts</text>
<line x1="289.90" y1="107.5" x2="289.90" y2="109.5" stroke="#222" stroke-width="0.8"/>
<text x="289.50" y="118.00" text-anchor="middle" font-family="Liberation Sans, sans-serif" font-size="7.4" fill="#111" stroke="#111" stroke-width="0.2" textLength="5.8" lengthAdjust="spacingAndGlyphs">10</text>
<text x="292.80" y="114.40" font-family="Liberation Sans, sans-serif" font-size="5.4" fill="#111" stroke="#111" stroke-width="0.15">0</text>
<line x1="296.82" y1="107.5" x2="296.82" y2="108.8" stroke="#333" stroke-width="0.6"/>
<line x1="300.86" y1="107.5" x2="300.86" y2="108.8" stroke="#333" stroke-width="0.6"/>
<line x1="303.73" y1="107.5" x2="303.73" y2="108.8" stroke="#333" stroke-width="0.6"/>
<line x1="305.96" y1="107.5" x2="305.96" y2="108.8" stroke="#333" stroke-width="0.6"/>
<line x1="307.78" y1="107.5" x2="307.78" y2="108.8" stroke="#333" stroke-width="0.6"/>
<line x1="309.32" y1="107.5" x2="309.32" y2="108.8" stroke="#333" stroke-width="0.6"/>
<line x1="310.65" y1="107.5" x2="310.65" y2="108.8" stroke="#333" stroke-width="0.6"/>
<line x1="311.82" y1="107.5" x2="311.82" y2="108.8" stroke="#333" stroke-width="0.6"/>
<line x1="312.88" y1="107.5" x2="312.88" y2="109.5" stroke="#222" stroke-width="0.8"/>
<text x="312.48" y="118.00" text-anchor="middle" font-family="Liberation Sans, sans-serif" font-size="7.4" fill="#111" stroke="#111" stroke-width="0.2" textLength="5.8" lengthAdjust="spacingAndGlyphs">10</text>
<text x="315.77" y="114.40" font-family="Liberation Sans, sans-serif" font-size="5.4" fill="#111" stroke="#111" stroke-width="0.15">1</text>
<line x1="319.79" y1="107.5" x2="319.79" y2="108.8" stroke="#333" stroke-width="0.6"/>
<line x1="323.84" y1="107.5" x2="323.84" y2="108.8" stroke="#333" stroke-width="0.6"/>
<line x1="326.71" y1="107.5" x2="326.71" y2="108.8" stroke="#333" stroke-width="0.6"/>
<line x1="328.93" y1="107.5" x2="328.93" y2="108.8" stroke="#333" stroke-width="0.6"/>
<line x1="330.75" y1="107.5" x2="330.75" y2="108.8" stroke="#333" stroke-width="0.6"/>
<line x1="332.29" y1="107.5" x2="332.29" y2="108.8" stroke="#333" stroke-width="0.6"/>
<line x1="333.62" y1="107.5" x2="333.62" y2="108.8" stroke="#333" stroke-width="0.6"/>
<line x1="334.80" y1="107.5" x2="334.80" y2="108.8" stroke="#333" stroke-width="0.6"/>
<line x1="335.85" y1="107.5" x2="335.85" y2="109.5" stroke="#222" stroke-width="0.8"/>
<text x="335.45" y="118.00" text-anchor="middle" font-family="Liberation Sans, sans-serif" font-size="7.4" fill="#111" stroke="#111" stroke-width="0.2" textLength="5.8" lengthAdjust="spacingAndGlyphs">10</text>
<text x="338.75" y="114.40" font-family="Liberation Sans, sans-serif" font-size="5.4" fill="#111" stroke="#111" stroke-width="0.15">2</text>
<line x1="342.77" y1="107.5" x2="342.77" y2="108.8" stroke="#333" stroke-width="0.6"/>
<line x1="346.81" y1="107.5" x2="346.81" y2="108.8" stroke="#333" stroke-width="0.6"/>
<line x1="349.68" y1="107.5" x2="349.68" y2="108.8" stroke="#333" stroke-width="0.6"/>
<line x1="351.91" y1="107.5" x2="351.91" y2="108.8" stroke="#333" stroke-width="0.6"/>
<line x1="353.73" y1="107.5" x2="353.73" y2="108.8" stroke="#333" stroke-width="0.6"/>
<line x1="355.27" y1="107.5" x2="355.27" y2="108.8" stroke="#333" stroke-width="0.6"/>
<line x1="356.60" y1="107.5" x2="356.60" y2="108.8" stroke="#333" stroke-width="0.6"/>
<line x1="357.77" y1="107.5" x2="357.77" y2="108.8" stroke="#333" stroke-width="0.6"/>
<line x1="358.82" y1="107.5" x2="358.82" y2="109.5" stroke="#222" stroke-width="0.8"/>
<text x="358.43" y="118.00" text-anchor="middle" font-family="Liberation Sans, sans-serif" font-size="7.4" fill="#111" stroke="#111" stroke-width="0.2" textLength="5.8" lengthAdjust="spacingAndGlyphs">10</text>
<text x="361.72" y="114.40" font-family="Liberation Sans, sans-serif" font-size="5.4" fill="#111" stroke="#111" stroke-width="0.15">3</text>
<line x1="365.74" y1="107.5" x2="365.74" y2="108.8" stroke="#333" stroke-width="0.6"/>
<line x1="369.79" y1="107.5" x2="369.79" y2="108.8" stroke="#333" stroke-width="0.6"/>
<line x1="372.66" y1="107.5" x2="372.66" y2="108.8" stroke="#333" stroke-width="0.6"/>
<line x1="374.88" y1="107.5" x2="374.88" y2="108.8" stroke="#333" stroke-width="0.6"/>
<line x1="376.70" y1="107.5" x2="376.70" y2="108.8" stroke="#333" stroke-width="0.6"/>
<line x1="378.24" y1="107.5" x2="378.24" y2="108.8" stroke="#333" stroke-width="0.6"/>
<line x1="379.57" y1="107.5" x2="379.57" y2="108.8" stroke="#333" stroke-width="0.6"/>
<line x1="380.75" y1="107.5" x2="380.75" y2="108.8" stroke="#333" stroke-width="0.6"/>
<line x1="381.80" y1="107.5" x2="381.80" y2="109.5" stroke="#222" stroke-width="0.8"/>
<text x="381.40" y="118.00" text-anchor="middle" font-family="Liberation Sans, sans-serif" font-size="7.4" fill="#111" stroke="#111" stroke-width="0.2" textLength="5.8" lengthAdjust="spacingAndGlyphs">10</text>
<text x="384.70" y="114.40" font-family="Liberation Sans, sans-serif" font-size="5.4" fill="#111" stroke="#111" stroke-width="0.15">4</text>
<text x="335.45" y="123.90" text-anchor="middle" font-family="Liberation Sans, sans-serif" font-size="6.4" fill="#1a1a1a" stroke="#1a1a1a" stroke-width="0.2" textLength="30" lengthAdjust="spacingAndGlyphs">FL2-Height</text>
<text x="330" y="33.6" font-family="Liberation Serif, serif" font-size="8.4" fill="#111" stroke="#111" stroke-width="0.2" textLength="16" lengthAdjust="spacingAndGlyphs">YTS</text>
<text x="354.9" y="33.6" font-family="Liberation Serif, serif" font-size="8.4" fill="#111" stroke="#111" stroke-width="0.2" textLength="22.2" lengthAdjust="spacingAndGlyphs">CXCR3</text>
<g>
<polygon points="421.6,107.8 421.6,97.7 422.8,97.7 423.4,104.0 424.4,104.1 426.0,96.1 428.0,83.2 430.0,67.2 431.7,51.1 433.0,44.0 434.1,40.6 435.0,42.0 435.7,46.3 437.3,59.1 439.5,74.0 441.8,86.8 444.2,96.2 446.9,102.8 449.2,105.2 452.0,106.2 457.3,107.3 462.0,107.8" fill="#0a0a0a" stroke="#0a0a0a" stroke-width="0.5"/>
<polyline points="435.4,108.4 440.0,106.7 443.5,103.8 446.9,100.4 449.2,97.5 451.5,93.4 453.8,88.8 456.1,84.2 458.5,80.8 460.2,77.9 461.9,74.4 463.1,72.1 464.2,72.7 464.8,75.6 466.0,78.5 467.7,80.2 469.4,82.5 471.1,85.4 472.9,88.8 474.6,91.7 476.9,94.6 479.2,96.9 481.5,99.8 483.8,102.7 486.1,104.4 489.6,106.1 494.2,107.3 500.0,107.9" fill="none" stroke="#333" stroke-width="1.2" stroke-linejoin="round"/>
<line x1="446.8" y1="106.3" x2="508.4" y2="106.3" stroke="#444" stroke-width="2.2" stroke-dasharray="1.5 0.7 0.8 0.6 2 0.9"/>
<polyline points="444.6,106.7 449.2,102.7 451.5,100.9 453.8,98.1 456.1,94.6 457.9,90.0 459.6,85.4 461.3,81.9 463.1,79.0 464.8,77.9 466.5,78.5 468.8,77.9 471.1,77.3 472.9,77.9 474.0,80.2 475.2,83.1 476.3,81.3 477.5,82.5 478.6,86.5 479.8,90.0 481.5,93.4 483.3,96.9 485.0,99.8 486.7,102.1 488.4,103.8 490.7,105.0 494.2,106.7 497.7,107.3 504.6,107.9" fill="none" stroke="#0c0c0c" stroke-width="1.5" stroke-linejoin="round"/>
</g>
<line x1="421.6" y1="25.7" x2="512.3" y2="25.7" stroke="#2a2a2a" stroke-width="1.1"/>
<line x1="512.3" y1="25.7" x2="512.3" y2="107.8" stroke="#4a4a4a" stroke-width="1"/>
<line x1="421.6" y1="25.7" x2="421.6" y2="107.8" stroke="#222" stroke-width="1.2"/>
<line x1="421.6" y1="107.8" x2="512.3" y2="107.8" stroke="#111" stroke-width="1.4"/>
<line x1="419.6" y1="107.80" x2="421.6" y2="107.80" stroke="#222" stroke-width="0.8"/>
<text transform="translate(416.60,108.20) rotate(-90)" text-anchor="middle" font-family="Liberation Sans, sans-serif" font-size="6.5" fill="#1a1a1a" stroke="#1a1a1a" stroke-width="0.08">0</text>
<line x1="420.0" y1="104.52" x2="421.6" y2="104.52" stroke="#333" stroke-width="0.8"/>
<line x1="420.0" y1="101.23" x2="421.6" y2="101.23" stroke="#333" stroke-width="0.8"/>
<line x1="420.0" y1="97.95" x2="421.6" y2="97.95" stroke="#333" stroke-width="0.8"/>
<line x1="420.0" y1="94.66" x2="421.6" y2="94.66" stroke="#333" stroke-width="0.8"/>
<line x1="419.6" y1="91.38" x2="421.6" y2="91.38" stroke="#222" stroke-width="0.8"/>
<text transform="translate(416.60,91.78) rotate(-90)" text-anchor="middle" font-family="Liberation Sans, sans-serif" font-size="6.5" fill="#1a1a1a" stroke="#1a1a1a" stroke-width="0.08">20</text>
<line x1="420.0" y1="88.10" x2="421.6" y2="88.10" stroke="#333" stroke-width="0.8"/>
<line x1="420.0" y1="84.81" x2="421.6" y2="84.81" stroke="#333" stroke-width="0.8"/>
<line x1="420.0" y1="81.53" x2="421.6" y2="81.53" stroke="#333" stroke-width="0.8"/>
<line x1="420.0" y1="78.24" x2="421.6" y2="78.24" stroke="#333" stroke-width="0.8"/>
<line x1="419.6" y1="74.96" x2="421.6" y2="74.96" stroke="#222" stroke-width="0.8"/>
<text transform="translate(416.60,75.36) rotate(-90)" text-anchor="middle" font-family="Liberation Sans, sans-serif" font-size="6.5" fill="#1a1a1a" stroke="#1a1a1a" stroke-width="0.08">40</text>
<line x1="420.0" y1="71.68" x2="421.6" y2="71.68" stroke="#333" stroke-width="0.8"/>
<line x1="420.0" y1="68.39" x2="421.6" y2="68.39" stroke="#333" stroke-width="0.8"/>
<line x1="420.0" y1="65.11" x2="421.6" y2="65.11" stroke="#333" stroke-width="0.8"/>
<line x1="420.0" y1="61.82" x2="421.6" y2="61.82" stroke="#333" stroke-width="0.8"/>
<line x1="419.6" y1="58.54" x2="421.6" y2="58.54" stroke="#222" stroke-width="0.8"/>
<text transform="translate(416.60,58.94) rotate(-90)" text-anchor="middle" font-family="Liberation Sans, sans-serif" font-size="6.5" fill="#1a1a1a" stroke="#1a1a1a" stroke-width="0.08">60</text>
<line x1="420.0" y1="55.26" x2="421.6" y2="55.26" stroke="#333" stroke-width="0.8"/>
<line x1="420.0" y1="51.97" x2="421.6" y2="51.97" stroke="#333" stroke-width="0.8"/>
<line x1="420.0" y1="48.69" x2="421.6" y2="48.69" stroke="#333" stroke-width="0.8"/>
<line x1="420.0" y1="45.40" x2="421.6" y2="45.40" stroke="#333" stroke-width="0.8"/>
<line x1="419.6" y1="42.12" x2="421.6" y2="42.12" stroke="#222" stroke-width="0.8"/>
<text transform="translate(416.60,42.52) rotate(-90)" text-anchor="middle" font-family="Liberation Sans, sans-serif" font-size="6.5" fill="#1a1a1a" stroke="#1a1a1a" stroke-width="0.08">80</text>
<line x1="420.0" y1="38.84" x2="421.6" y2="38.84" stroke="#333" stroke-width="0.8"/>
<line x1="420.0" y1="35.55" x2="421.6" y2="35.55" stroke="#333" stroke-width="0.8"/>
<line x1="420.0" y1="32.27" x2="421.6" y2="32.27" stroke="#333" stroke-width="0.8"/>
<line x1="420.0" y1="28.98" x2="421.6" y2="28.98" stroke="#333" stroke-width="0.8"/>
<line x1="419.6" y1="25.70" x2="421.6" y2="25.70" stroke="#222" stroke-width="0.8"/>
<text transform="translate(416.60,26.10) rotate(-90)" text-anchor="middle" font-family="Liberation Sans, sans-serif" font-size="6.5" fill="#1a1a1a" stroke="#1a1a1a" stroke-width="0.08">100</text>
<text transform="translate(409.30,68.55) rotate(-90)" text-anchor="middle" font-family="Liberation Sans, sans-serif" font-size="5.7" fill="#1a1a1a" stroke="#1a1a1a" stroke-width="0.12" textLength="20.5" lengthAdjust="spacingAndGlyphs">Counts</text>
<line x1="421.60" y1="107.8" x2="421.60" y2="109.8" stroke="#222" stroke-width="0.8"/>
<text x="421.20" y="118.30" text-anchor="middle" font-family="Liberation Sans, sans-serif" font-size="7.4" fill="#111" stroke="#111" stroke-width="0.2" textLength="5.8" lengthAdjust="spacingAndGlyphs">10</text>
<text x="424.50" y="114.70" font-family="Liberation Sans, sans-serif" font-size="5.4" fill="#111" stroke="#111" stroke-width="0.15">0</text>
<line x1="428.43" y1="107.8" x2="428.43" y2="109.1" stroke="#333" stroke-width="0.6"/>
<line x1="432.42" y1="107.8" x2="432.42" y2="109.1" stroke="#333" stroke-width="0.6"/>
<line x1="435.25" y1="107.8" x2="435.25" y2="109.1" stroke="#333" stroke-width="0.6"/>
<line x1="437.45" y1="107.8" x2="437.45" y2="109.1" stroke="#333" stroke-width="0.6"/>
<line x1="439.24" y1="107.8" x2="439.24" y2="109.1" stroke="#333" stroke-width="0.6"/>
<line x1="440.76" y1="107.8" x2="440.76" y2="109.1" stroke="#333" stroke-width="0.6"/>
<line x1="442.08" y1="107.8" x2="442.08" y2="109.1" stroke="#333" stroke-width="0.6"/>
<line x1="443.24" y1="107.8" x2="443.24" y2="109.1" stroke="#333" stroke-width="0.6"/>
<line x1="444.27" y1="107.8" x2="444.27" y2="109.8" stroke="#222" stroke-width="0.8"/>
<text x="443.88" y="118.30" text-anchor="middle" font-family="Liberation Sans, sans-serif" font-size="7.4" fill="#111" stroke="#111" stroke-width="0.2" textLength="5.8" lengthAdjust="spacingAndGlyphs">10</text>
<text x="447.17" y="114.70" font-family="Liberation Sans, sans-serif" font-size="5.4" fill="#111" stroke="#111" stroke-width="0.15">1</text>
<line x1="451.10" y1="107.8" x2="451.10" y2="109.1" stroke="#333" stroke-width="0.6"/>
<line x1="455.09" y1="107.8" x2="455.09" y2="109.1" stroke="#333" stroke-width="0.6"/>
<line x1="457.93" y1="107.8" x2="457.93" y2="109.1" stroke="#333" stroke-width="0.6"/>
<line x1="460.12" y1="107.8" x2="460.12" y2="109.1" stroke="#333" stroke-width="0.6"/>
<line x1="461.92" y1="107.8" x2="461.92" y2="109.1" stroke="#333" stroke-width="0.6"/>
<line x1="463.44" y1="107.8" x2="463.44" y2="109.1" stroke="#333" stroke-width="0.6"/>
<line x1="464.75" y1="107.8" x2="464.75" y2="109.1" stroke="#333" stroke-width="0.6"/>
<line x1="465.91" y1="107.8" x2="465.91" y2="109.1" stroke="#333" stroke-width="0.6"/>
<line x1="466.95" y1="107.8" x2="466.95" y2="109.8" stroke="#222" stroke-width="0.8"/>
<text x="466.55" y="118.30" text-anchor="middle" font-family="Liberation Sans, sans-serif" font-size="7.4" fill="#111" stroke="#111" stroke-width="0.2" textLength="5.8" lengthAdjust="spacingAndGlyphs">10</text>
<text x="469.85" y="114.70" font-family="Liberation Sans, sans-serif" font-size="5.4" fill="#111" stroke="#111" stroke-width="0.15">2</text>
<line x1="473.78" y1="107.8" x2="473.78" y2="109.1" stroke="#333" stroke-width="0.6"/>
<line x1="477.77" y1="107.8" x2="477.77" y2="109.1" stroke="#333" stroke-width="0.6"/>
<line x1="480.60" y1="107.8" x2="480.60" y2="109.1" stroke="#333" stroke-width="0.6"/>
<line x1="482.80" y1="107.8" x2="482.80" y2="109.1" stroke="#333" stroke-width="0.6"/>
<line x1="484.59" y1="107.8" x2="484.59" y2="109.1" stroke="#333" stroke-width="0.6"/>
<line x1="486.11" y1="107.8" x2="486.11" y2="109.1" stroke="#333" stroke-width="0.6"/>
<line x1="487.43" y1="107.8" x2="487.43" y2="109.1" stroke="#333" stroke-width="0.6"/>
<line x1="488.59" y1="107.8" x2="488.59" y2="109.1" stroke="#333" stroke-width="0.6"/>
<line x1="489.62" y1="107.8" x2="489.62" y2="109.8" stroke="#222" stroke-width="0.8"/>
<text x="489.23" y="118.30" text-anchor="middle" font-family="Liberation Sans, sans-serif" font-size="7.4" fill="#111" stroke="#111" stroke-width="0.2" textLength="5.8" lengthAdjust="spacingAndGlyphs">10</text>
<text x="492.52" y="114.70" font-family="Liberation Sans, sans-serif" font-size="5.4" fill="#111" stroke="#111" stroke-width="0.15">3</text>
<line x1="496.45" y1="107.8" x2="496.45" y2="109.1" stroke="#333" stroke-width="0.6"/>
<line x1="500.44" y1="107.8" x2="500.44" y2="109.1" stroke="#333" stroke-width="0.6"/>
<line x1="503.28" y1="107.8" x2="503.28" y2="109.1" stroke="#333" stroke-width="0.6"/>
<line x1="505.47" y1="107.8" x2="505.47" y2="109.1" stroke="#333" stroke-width="0.6"/>
<line x1="507.27" y1="107.8" x2="507.27" y2="109.1" stroke="#333" stroke-width="0.6"/>
<line x1="508.79" y1="107.8" x2="508.79" y2="109.1" stroke="#333" stroke-width="0.6"/>
<line x1="510.10" y1="107.8" x2="510.10" y2="109.1" stroke="#333" stroke-width="0.6"/>
<line x1="511.26" y1="107.8" x2="511.26" y2="109.1" stroke="#333" stroke-width="0.6"/>
<line x1="512.30" y1="107.8" x2="512.30" y2="109.8" stroke="#222" stroke-width="0.8"/>
<text x="511.90" y="118.30" text-anchor="middle" font-family="Liberation Sans, sans-serif" font-size="7.4" fill="#111" stroke="#111" stroke-width="0.2" textLength="5.8" lengthAdjust="spacingAndGlyphs">10</text>
<text x="515.20" y="114.70" font-family="Liberation Sans, sans-serif" font-size="5.4" fill="#111" stroke="#111" stroke-width="0.15">4</text>
<text x="466.55" y="124.20" text-anchor="middle" font-family="Liberation Sans, sans-serif" font-size="6.4" fill="#1a1a1a" stroke="#1a1a1a" stroke-width="0.2" textLength="30" lengthAdjust="spacingAndGlyphs">FL2-Height</text>
<text x="460.8" y="34.1" font-family="Liberation Serif, serif" font-size="8.4" fill="#111" stroke="#111" stroke-width="0.2" textLength="16.1" lengthAdjust="spacingAndGlyphs">RBL</text>
<text x="486.1" y="34.1" font-family="Liberation Serif, serif" font-size="8.4" fill="#111" stroke="#111" stroke-width="0.2" textLength="22.9" lengthAdjust="spacingAndGlyphs">CXCR3</text>
<g>
<polygon points="17.5,230.1 17.6,215.6 21.0,215.6 22.5,214.1 24.0,206.4 25.1,190.9 26.4,175.5 27.6,167.0 28.5,169.0 29.5,175.5 31.2,190.9 32.8,206.4 34.5,216.5 37.2,222.5 41.0,225.3 44.0,226.2 50.0,227.5 60.0,229.0" fill="#0a0a0a" stroke="#0a0a0a" stroke-width="0.5"/>
<polyline points="35.5,229.0 39.5,227.5 43.5,224.9 47.3,219.5 51.2,212.6 54.4,204.8 57.5,194.0 60.0,185.5 62.0,180.1 62.7,182.3 63.7,186.6 64.7,190.9 65.9,194.5 67.3,201.0 68.8,208.2 70.2,213.9 72.4,220.4 74.5,224.0 76.7,226.9 78.8,228.0 83.0,228.6" fill="none" stroke="#333" stroke-width="1.2" stroke-linejoin="round"/>
<line x1="40.0" y1="228.6" x2="109.0" y2="228.6" stroke="#444" stroke-width="2.2" stroke-dasharray="1.5 0.7 0.8 0.6 2 0.9"/>
<polyline points="40.0,228.6 42.0,228.0 45.7,224.9 49.5,218.7 53.4,211.0 55.7,204.8 58.8,197.1 61.9,193.2 63.5,193.2 64.5,193.8 65.9,195.2 67.3,197.4 68.8,200.3 70.2,203.1 72.4,208.2 74.5,213.9 76.7,219.7 78.8,224.0 80.3,226.2 81.7,227.6 83.2,228.0 84.6,226.9 87.5,224.7 90.4,223.3 93.2,223.7 94.7,221.8 96.1,223.3 97.6,225.4 99.0,227.2 101.9,228.3" fill="none" stroke="#0c0c0c" stroke-width="1.5" stroke-linejoin="round"/>
</g>
<line x1="17.5" y1="146.8" x2="114.8" y2="146.8" stroke="#2a2a2a" stroke-width="1.1"/>
<line x1="114.8" y1="146.8" x2="114.8" y2="230.1" stroke="#4a4a4a" stroke-width="1"/>
<line x1="17.5" y1="146.8" x2="17.5" y2="230.1" stroke="#222" stroke-width="1.2"/>
<line x1="17.5" y1="230.1" x2="114.8" y2="230.1" stroke="#111" stroke-width="1.4"/>
<line x1="15.5" y1="230.10" x2="17.5" y2="230.10" stroke="#222" stroke-width="0.8"/>
<text transform="translate(12.50,230.50) rotate(-90)" text-anchor="middle" font-family="Liberation Sans, sans-serif" font-size="6.5" fill="#1a1a1a" stroke="#1a1a1a" stroke-width="0.08">0</text>
<line x1="15.9" y1="226.77" x2="17.5" y2="226.77" stroke="#333" stroke-width="0.8"/>
<line x1="15.9" y1="223.44" x2="17.5" y2="223.44" stroke="#333" stroke-width="0.8"/>
<line x1="15.9" y1="220.10" x2="17.5" y2="220.10" stroke="#333" stroke-width="0.8"/>
<line x1="15.9" y1="216.77" x2="17.5" y2="216.77" stroke="#333" stroke-width="0.8"/>
<line x1="15.5" y1="213.44" x2="17.5" y2="213.44" stroke="#222" stroke-width="0.8"/>
<text transform="translate(12.50,213.84) rotate(-90)" text-anchor="middle" font-family="Liberation Sans, sans-serif" font-size="6.5" fill="#1a1a1a" stroke="#1a1a1a" stroke-width="0.08">10</text>
<line x1="15.9" y1="210.11" x2="17.5" y2="210.11" stroke="#333" stroke-width="0.8"/>
<line x1="15.9" y1="206.78" x2="17.5" y2="206.78" stroke="#333" stroke-width="0.8"/>
<line x1="15.9" y1="203.44" x2="17.5" y2="203.44" stroke="#333" stroke-width="0.8"/>
<line x1="15.9" y1="200.11" x2="17.5" y2="200.11" stroke="#333" stroke-width="0.8"/>
<line x1="15.5" y1="196.78" x2="17.5" y2="196.78" stroke="#222" stroke-width="0.8"/>
<text transform="translate(12.50,197.18) rotate(-90)" text-anchor="middle" font-family="Liberation Sans, sans-serif" font-size="6.5" fill="#1a1a1a" stroke="#1a1a1a" stroke-width="0.08">20</text>
<line x1="15.9" y1="193.45" x2="17.5" y2="193.45" stroke="#333" stroke-width="0.8"/>
<line x1="15.9" y1="190.12" x2="17.5" y2="190.12" stroke="#333" stroke-width="0.8"/>
<line x1="15.9" y1="186.78" x2="17.5" y2="186.78" stroke="#333" stroke-width="0.8"/>
<line x1="15.9" y1="183.45" x2="17.5" y2="183.45" stroke="#333" stroke-width="0.8"/>
<line x1="15.5" y1="180.12" x2="17.5" y2="180.12" stroke="#222" stroke-width="0.8"/>
<text transform="translate(12.50,180.52) rotate(-90)" text-anchor="middle" font-family="Liberation Sans, sans-serif" font-size="6.5" fill="#1a1a1a" stroke="#1a1a1a" stroke-width="0.08">30</text>
<line x1="15.9" y1="176.79" x2="17.5" y2="176.79" stroke="#333" stroke-width="0.8"/>
<line x1="15.9" y1="173.46" x2="17.5" y2="173.46" stroke="#333" stroke-width="0.8"/>
<line x1="15.9" y1="170.12" x2="17.5" y2="170.12" stroke="#333" stroke-width="0.8"/>
<line x1="15.9" y1="166.79" x2="17.5" y2="166.79" stroke="#333" stroke-width="0.8"/>
<line x1="15.5" y1="163.46" x2="17.5" y2="163.46" stroke="#222" stroke-width="0.8"/>
<text transform="translate(12.50,163.86) rotate(-90)" text-anchor="middle" font-family="Liberation Sans, sans-serif" font-size="6.5" fill="#1a1a1a" stroke="#1a1a1a" stroke-width="0.08">40</text>
<line x1="15.9" y1="160.13" x2="17.5" y2="160.13" stroke="#333" stroke-width="0.8"/>
<line x1="15.9" y1="156.80" x2="17.5" y2="156.80" stroke="#333" stroke-width="0.8"/>
<line x1="15.9" y1="153.46" x2="17.5" y2="153.46" stroke="#333" stroke-width="0.8"/>
<line x1="15.9" y1="150.13" x2="17.5" y2="150.13" stroke="#333" stroke-width="0.8"/>
<line x1="15.5" y1="146.80" x2="17.5" y2="146.80" stroke="#222" stroke-width="0.8"/>
<text transform="translate(12.50,147.20) rotate(-90)" text-anchor="middle" font-family="Liberation Sans, sans-serif" font-size="6.5" fill="#1a1a1a" stroke="#1a1a1a" stroke-width="0.08">50</text>
<text transform="translate(5.20,190.25) rotate(-90)" text-anchor="middle" font-family="Liberation Sans, sans-serif" font-size="5.7" fill="#1a1a1a" stroke="#1a1a1a" stroke-width="0.12" textLength="20.5" lengthAdjust="spacingAndGlyphs">Counts</text>
<line x1="17.50" y1="230.1" x2="17.50" y2="232.1" stroke="#222" stroke-width="0.8"/>
<text x="17.10" y="240.60" text-anchor="middle" font-family="Liberation Sans, sans-serif" font-size="7.4" fill="#111" stroke="#111" stroke-width="0.2" textLength="5.8" lengthAdjust="spacingAndGlyphs">10</text>
<text x="20.40" y="237.00" font-family="Liberation Sans, sans-serif" font-size="5.4" fill="#111" stroke="#111" stroke-width="0.15">0</text>
<line x1="24.82" y1="230.1" x2="24.82" y2="231.4" stroke="#333" stroke-width="0.6"/>
<line x1="29.11" y1="230.1" x2="29.11" y2="231.4" stroke="#333" stroke-width="0.6"/>
<line x1="32.15" y1="230.1" x2="32.15" y2="231.4" stroke="#333" stroke-width="0.6"/>
<line x1="34.50" y1="230.1" x2="34.50" y2="231.4" stroke="#333" stroke-width="0.6"/>
<line x1="36.43" y1="230.1" x2="36.43" y2="231.4" stroke="#333" stroke-width="0.6"/>
<line x1="38.06" y1="230.1" x2="38.06" y2="231.4" stroke="#333" stroke-width="0.6"/>
<line x1="39.47" y1="230.1" x2="39.47" y2="231.4" stroke="#333" stroke-width="0.6"/>
<line x1="40.71" y1="230.1" x2="40.71" y2="231.4" stroke="#333" stroke-width="0.6"/>
<line x1="41.83" y1="230.1" x2="41.83" y2="232.1" stroke="#222" stroke-width="0.8"/>
<text x="41.43" y="240.60" text-anchor="middle" font-family="Liberation Sans, sans-serif" font-size="7.4" fill="#111" stroke="#111" stroke-width="0.2" textLength="5.8" lengthAdjust="spacingAndGlyphs">10</text>
<text x="44.73" y="237.00" font-family="Liberation Sans, sans-serif" font-size="5.4" fill="#111" stroke="#111" stroke-width="0.15">1</text>
<line x1="49.15" y1="230.1" x2="49.15" y2="231.4" stroke="#333" stroke-width="0.6"/>
<line x1="53.43" y1="230.1" x2="53.43" y2="231.4" stroke="#333" stroke-width="0.6"/>
<line x1="56.47" y1="230.1" x2="56.47" y2="231.4" stroke="#333" stroke-width="0.6"/>
<line x1="58.83" y1="230.1" x2="58.83" y2="231.4" stroke="#333" stroke-width="0.6"/>
<line x1="60.75" y1="230.1" x2="60.75" y2="231.4" stroke="#333" stroke-width="0.6"/>
<line x1="62.38" y1="230.1" x2="62.38" y2="231.4" stroke="#333" stroke-width="0.6"/>
<line x1="63.79" y1="230.1" x2="63.79" y2="231.4" stroke="#333" stroke-width="0.6"/>
<line x1="65.04" y1="230.1" x2="65.04" y2="231.4" stroke="#333" stroke-width="0.6"/>
<line x1="66.15" y1="230.1" x2="66.15" y2="232.1" stroke="#222" stroke-width="0.8"/>
<text x="65.75" y="240.60" text-anchor="middle" font-family="Liberation Sans, sans-serif" font-size="7.4" fill="#111" stroke="#111" stroke-width="0.2" textLength="5.8" lengthAdjust="spacingAndGlyphs">10</text>
<text x="69.05" y="237.00" font-family="Liberation Sans, sans-serif" font-size="5.4" fill="#111" stroke="#111" stroke-width="0.15">2</text>
<line x1="73.47" y1="230.1" x2="73.47" y2="231.4" stroke="#333" stroke-width="0.6"/>
<line x1="77.76" y1="230.1" x2="77.76" y2="231.4" stroke="#333" stroke-width="0.6"/>
<line x1="80.80" y1="230.1" x2="80.80" y2="231.4" stroke="#333" stroke-width="0.6"/>
<line x1="83.15" y1="230.1" x2="83.15" y2="231.4" stroke="#333" stroke-width="0.6"/>
<line x1="85.08" y1="230.1" x2="85.08" y2="231.4" stroke="#333" stroke-width="0.6"/>
<line x1="86.71" y1="230.1" x2="86.71" y2="231.4" stroke="#333" stroke-width="0.6"/>
<line x1="88.12" y1="230.1" x2="88.12" y2="231.4" stroke="#333" stroke-width="0.6"/>
<line x1="89.36" y1="230.1" x2="89.36" y2="231.4" stroke="#333" stroke-width="0.6"/>
<line x1="90.47" y1="230.1" x2="90.47" y2="232.1" stroke="#222" stroke-width="0.8"/>
<text x="90.07" y="240.60" text-anchor="middle" font-family="Liberation Sans, sans-serif" font-size="7.4" fill="#111" stroke="#111" stroke-width="0.2" textLength="5.8" lengthAdjust="spacingAndGlyphs">10</text>
<text x="93.38" y="237.00" font-family="Liberation Sans, sans-serif" font-size="5.4" fill="#111" stroke="#111" stroke-width="0.15">3</text>
<line x1="97.80" y1="230.1" x2="97.80" y2="231.4" stroke="#333" stroke-width="0.6"/>
<line x1="102.08" y1="230.1" x2="102.08" y2="231.4" stroke="#333" stroke-width="0.6"/>
<line x1="105.12" y1="230.1" x2="105.12" y2="231.4" stroke="#333" stroke-width="0.6"/>
<line x1="107.48" y1="230.1" x2="107.48" y2="231.4" stroke="#333" stroke-width="0.6"/>
<line x1="109.40" y1="230.1" x2="109.40" y2="231.4" stroke="#333" stroke-width="0.6"/>
<line x1="111.03" y1="230.1" x2="111.03" y2="231.4" stroke="#333" stroke-width="0.6"/>
<line x1="112.44" y1="230.1" x2="112.44" y2="231.4" stroke="#333" stroke-width="0.6"/>
<line x1="113.69" y1="230.1" x2="113.69" y2="231.4" stroke="#333" stroke-width="0.6"/>
<line x1="114.80" y1="230.1" x2="114.80" y2="232.1" stroke="#222" stroke-width="0.8"/>
<text x="114.40" y="240.60" text-anchor="middle" font-family="Liberation Sans, sans-serif" font-size="7.4" fill="#111" stroke="#111" stroke-width="0.2" textLength="5.8" lengthAdjust="spacingAndGlyphs">10</text>
<text x="117.70" y="237.00" font-family="Liberation Sans, sans-serif" font-size="5.4" fill="#111" stroke="#111" stroke-width="0.15">4</text>
<text x="65.75" y="246.50" text-anchor="middle" font-family="Liberation Sans, sans-serif" font-size="6.4" fill="#1a1a1a" stroke="#1a1a1a" stroke-width="0.2" textLength="14" lengthAdjust="spacingAndGlyphs">FL2-H</text>
<text x="41" y="155.2" font-family="Liberation Serif, serif" font-size="8.4" fill="#111" stroke="#111" stroke-width="0.2" textLength="12.2" lengthAdjust="spacingAndGlyphs">293</text>
<text x="62.4" y="155.2" font-family="Liberation Serif, serif" font-size="8.4" fill="#111" stroke="#111" stroke-width="0.2" textLength="22.9" lengthAdjust="spacingAndGlyphs">CXCR3</text>
<text x="93" y="155.2" font-family="Liberation Serif, serif" font-size="8.4" fill="#111" stroke="#111" stroke-width="0.2" textLength="18.8" lengthAdjust="spacingAndGlyphs">S245A</text>
<g>
<polygon points="154.9,229.8 155.5,226.0 155.9,224.9 158.2,224.9 160.5,218.7 162.8,211.0 165.1,201.7 166.7,194.0 168.2,186.3 169.8,180.1 170.9,175.5 171.8,173.6 172.9,177.0 173.6,183.2 174.9,190.9 176.0,198.6 176.7,204.8 177.5,209.5 178.6,217.2 179.8,221.8 181.4,224.9 182.9,226.5 185.2,227.2 190.0,229.8" fill="#0a0a0a" stroke="#0a0a0a" stroke-width="0.5"/>
<polyline points="173.6,226.5 176.0,224.9 178.3,221.8 180.6,218.0 182.1,214.9 183.7,212.6 185.2,211.0 186.8,207.9 188.3,205.6 189.9,203.3 191.4,201.0 193.0,198.6 194.5,197.1 195.6,196.3 196.8,197.9 197.9,202.5 199.1,206.4 200.2,209.5 201.5,212.6 203.0,215.6 204.6,219.5 206.1,222.6 207.6,224.9 210.0,226.5 213.8,227.2" fill="none" stroke="#555" stroke-width="1.5" stroke-linejoin="round"/>
<line x1="171.2" y1="228.3" x2="238.5" y2="228.3" stroke="#444" stroke-width="2.2" stroke-dasharray="1.5 0.7 0.8 0.6 2 0.9"/>
<polyline points="187.6,225.8 189.5,223.8 191.4,221.9 193.3,221.0 195.3,220.0 197.2,219.0 199.1,217.1 201.0,214.2 203.0,211.3 204.9,206.5 206.4,200.8 207.8,195.0 208.9,190.2 210.1,185.4 211.2,182.5 212.2,181.5 213.2,184.4 213.9,190.2 214.9,196.9 215.8,203.7 217.0,210.4 218.3,217.1 219.7,221.9 221.2,223.8 223.2,224.2 225.1,225.4 228.9,226.2 232.8,227.3" fill="none" stroke="#0c0c0c" stroke-width="1.5" stroke-linejoin="round"/>
</g>
<line x1="154.9" y1="146.7" x2="248.1" y2="146.7" stroke="#2a2a2a" stroke-width="1.1"/>
<line x1="248.1" y1="146.7" x2="248.1" y2="229.8" stroke="#4a4a4a" stroke-width="1"/>
<line x1="154.9" y1="146.7" x2="154.9" y2="229.8" stroke="#222" stroke-width="1.2"/>
<line x1="154.9" y1="229.8" x2="248.1" y2="229.8" stroke="#111" stroke-width="1.4"/>
<line x1="152.9" y1="229.80" x2="154.9" y2="229.80" stroke="#222" stroke-width="0.8"/>
<text transform="translate(149.90,230.20) rotate(-90)" text-anchor="middle" font-family="Liberation Sans, sans-serif" font-size="6.5" fill="#1a1a1a" stroke="#1a1a1a" stroke-width="0.08">0</text>
<line x1="153.3" y1="227.03" x2="154.9" y2="227.03" stroke="#333" stroke-width="0.8"/>
<line x1="153.3" y1="224.26" x2="154.9" y2="224.26" stroke="#333" stroke-width="0.8"/>
<line x1="153.3" y1="221.49" x2="154.9" y2="221.49" stroke="#333" stroke-width="0.8"/>
<line x1="153.3" y1="218.72" x2="154.9" y2="218.72" stroke="#333" stroke-width="0.8"/>
<line x1="152.9" y1="215.95" x2="154.9" y2="215.95" stroke="#222" stroke-width="0.8"/>
<text transform="translate(149.90,216.35) rotate(-90)" text-anchor="middle" font-family="Liberation Sans, sans-serif" font-size="6.5" fill="#1a1a1a" stroke="#1a1a1a" stroke-width="0.08">10</text>
<line x1="153.3" y1="213.18" x2="154.9" y2="213.18" stroke="#333" stroke-width="0.8"/>
<line x1="153.3" y1="210.41" x2="154.9" y2="210.41" stroke="#333" stroke-width="0.8"/>
<line x1="153.3" y1="207.64" x2="154.9" y2="207.64" stroke="#333" stroke-width="0.8"/>
<line x1="153.3" y1="204.87" x2="154.9" y2="204.87" stroke="#333" stroke-width="0.8"/>
<line x1="152.9" y1="202.10" x2="154.9" y2="202.10" stroke="#222" stroke-width="0.8"/>
<text transform="translate(149.90,202.50) rotate(-90)" text-anchor="middle" font-family="Liberation Sans, sans-serif" font-size="6.5" fill="#1a1a1a" stroke="#1a1a1a" stroke-width="0.08">20</text>
<line x1="153.3" y1="199.33" x2="154.9" y2="199.33" stroke="#333" stroke-width="0.8"/>
<line x1="153.3" y1="196.56" x2="154.9" y2="196.56" stroke="#333" stroke-width="0.8"/>
<line x1="153.3" y1="193.79" x2="154.9" y2="193.79" stroke="#333" stroke-width="0.8"/>
<line x1="153.3" y1="191.02" x2="154.9" y2="191.02" stroke="#333" stroke-width="0.8"/>
<line x1="152.9" y1="188.25" x2="154.9" y2="188.25" stroke="#222" stroke-width="0.8"/>
<text transform="translate(149.90,188.65) rotate(-90)" text-anchor="middle" font-family="Liberation Sans, sans-serif" font-size="6.5" fill="#1a1a1a" stroke="#1a1a1a" stroke-width="0.08">30</text>
<line x1="153.3" y1="185.48" x2="154.9" y2="185.48" stroke="#333" stroke-width="0.8"/>
<line x1="153.3" y1="182.71" x2="154.9" y2="182.71" stroke="#333" stroke-width="0.8"/>
<line x1="153.3" y1="179.94" x2="154.9" y2="179.94" stroke="#333" stroke-width="0.8"/>
<line x1="153.3" y1="177.17" x2="154.9" y2="177.17" stroke="#333" stroke-width="0.8"/>
<line x1="152.9" y1="174.40" x2="154.9" y2="174.40" stroke="#222" stroke-width="0.8"/>
<text transform="translate(149.90,174.80) rotate(-90)" text-anchor="middle" font-family="Liberation Sans, sans-serif" font-size="6.5" fill="#1a1a1a" stroke="#1a1a1a" stroke-width="0.08">40</text>
<line x1="153.3" y1="171.63" x2="154.9" y2="171.63" stroke="#333" stroke-width="0.8"/>
<line x1="153.3" y1="168.86" x2="154.9" y2="168.86" stroke="#333" stroke-width="0.8"/>
<line x1="153.3" y1="166.09" x2="154.9" y2="166.09" stroke="#333" stroke-width="0.8"/>
<line x1="153.3" y1="163.32" x2="154.9" y2="163.32" stroke="#333" stroke-width="0.8"/>
<line x1="152.9" y1="160.55" x2="154.9" y2="160.55" stroke="#222" stroke-width="0.8"/>
<text transform="translate(149.90,160.95) rotate(-90)" text-anchor="middle" font-family="Liberation Sans, sans-serif" font-size="6.5" fill="#1a1a1a" stroke="#1a1a1a" stroke-width="0.08">50</text>
<line x1="153.3" y1="157.78" x2="154.9" y2="157.78" stroke="#333" stroke-width="0.8"/>
<line x1="153.3" y1="155.01" x2="154.9" y2="155.01" stroke="#333" stroke-width="0.8"/>
<line x1="153.3" y1="152.24" x2="154.9" y2="152.24" stroke="#333" stroke-width="0.8"/>
<line x1="153.3" y1="149.47" x2="154.9" y2="149.47" stroke="#333" stroke-width="0.8"/>
<line x1="152.9" y1="146.70" x2="154.9" y2="146.70" stroke="#222" stroke-width="0.8"/>
<text transform="translate(149.90,147.10) rotate(-90)" text-anchor="middle" font-family="Liberation Sans, sans-serif" font-size="6.5" fill="#1a1a1a" stroke="#1a1a1a" stroke-width="0.08">60</text>
<text transform="translate(142.60,190.05) rotate(-90)" text-anchor="middle" font-family="Liberation Sans, sans-serif" font-size="5.7" fill="#1a1a1a" stroke="#1a1a1a" stroke-width="0.12" textLength="20.5" lengthAdjust="spacingAndGlyphs">Counts</text>
<line x1="154.90" y1="229.8" x2="154.90" y2="231.8" stroke="#222" stroke-width="0.8"/>
<text x="154.50" y="240.30" text-anchor="middle" font-family="Liberation Sans, sans-serif" font-size="7.4" fill="#111" stroke="#111" stroke-width="0.2" textLength="5.8" lengthAdjust="spacingAndGlyphs">10</text>
<text x="157.80" y="236.70" font-family="Liberation Sans, sans-serif" font-size="5.4" fill="#111" stroke="#111" stroke-width="0.15">0</text>
<line x1="161.91" y1="229.8" x2="161.91" y2="231.10000000000002" stroke="#333" stroke-width="0.6"/>
<line x1="166.02" y1="229.8" x2="166.02" y2="231.10000000000002" stroke="#333" stroke-width="0.6"/>
<line x1="168.93" y1="229.8" x2="168.93" y2="231.10000000000002" stroke="#333" stroke-width="0.6"/>
<line x1="171.19" y1="229.8" x2="171.19" y2="231.10000000000002" stroke="#333" stroke-width="0.6"/>
<line x1="173.03" y1="229.8" x2="173.03" y2="231.10000000000002" stroke="#333" stroke-width="0.6"/>
<line x1="174.59" y1="229.8" x2="174.59" y2="231.10000000000002" stroke="#333" stroke-width="0.6"/>
<line x1="175.94" y1="229.8" x2="175.94" y2="231.10000000000002" stroke="#333" stroke-width="0.6"/>
<line x1="177.13" y1="229.8" x2="177.13" y2="231.10000000000002" stroke="#333" stroke-width="0.6"/>
<line x1="178.20" y1="229.8" x2="178.20" y2="231.8" stroke="#222" stroke-width="0.8"/>
<text x="177.80" y="240.30" text-anchor="middle" font-family="Liberation Sans, sans-serif" font-size="7.4" fill="#111" stroke="#111" stroke-width="0.2" textLength="5.8" lengthAdjust="spacingAndGlyphs">10</text>
<text x="181.10" y="236.70" font-family="Liberation Sans, sans-serif" font-size="5.4" fill="#111" stroke="#111" stroke-width="0.15">1</text>
<line x1="185.21" y1="229.8" x2="185.21" y2="231.10000000000002" stroke="#333" stroke-width="0.6"/>
<line x1="189.32" y1="229.8" x2="189.32" y2="231.10000000000002" stroke="#333" stroke-width="0.6"/>
<line x1="192.23" y1="229.8" x2="192.23" y2="231.10000000000002" stroke="#333" stroke-width="0.6"/>
<line x1="194.49" y1="229.8" x2="194.49" y2="231.10000000000002" stroke="#333" stroke-width="0.6"/>
<line x1="196.33" y1="229.8" x2="196.33" y2="231.10000000000002" stroke="#333" stroke-width="0.6"/>
<line x1="197.89" y1="229.8" x2="197.89" y2="231.10000000000002" stroke="#333" stroke-width="0.6"/>
<line x1="199.24" y1="229.8" x2="199.24" y2="231.10000000000002" stroke="#333" stroke-width="0.6"/>
<line x1="200.43" y1="229.8" x2="200.43" y2="231.10000000000002" stroke="#333" stroke-width="0.6"/>
<line x1="201.50" y1="229.8" x2="201.50" y2="231.8" stroke="#222" stroke-width="0.8"/>
<text x="201.10" y="240.30" text-anchor="middle" font-family="Liberation Sans, sans-serif" font-size="7.4" fill="#111" stroke="#111" stroke-width="0.2" textLength="5.8" lengthAdjust="spacingAndGlyphs">10</text>
<text x="204.40" y="236.70" font-family="Liberation Sans, sans-serif" font-size="5.4" fill="#111" stroke="#111" stroke-width="0.15">2</text>
<line x1="208.51" y1="229.8" x2="208.51" y2="231.10000000000002" stroke="#333" stroke-width="0.6"/>
<line x1="212.62" y1="229.8" x2="212.62" y2="231.10000000000002" stroke="#333" stroke-width="0.6"/>
<line x1="215.53" y1="229.8" x2="215.53" y2="231.10000000000002" stroke="#333" stroke-width="0.6"/>
<line x1="217.79" y1="229.8" x2="217.79" y2="231.10000000000002" stroke="#333" stroke-width="0.6"/>
<line x1="219.63" y1="229.8" x2="219.63" y2="231.10000000000002" stroke="#333" stroke-width="0.6"/>
<line x1="221.19" y1="229.8" x2="221.19" y2="231.10000000000002" stroke="#333" stroke-width="0.6"/>
<line x1="222.54" y1="229.8" x2="222.54" y2="231.10000000000002" stroke="#333" stroke-width="0.6"/>
<line x1="223.73" y1="229.8" x2="223.73" y2="231.10000000000002" stroke="#333" stroke-width="0.6"/>
<line x1="224.80" y1="229.8" x2="224.80" y2="231.8" stroke="#222" stroke-width="0.8"/>
<text x="224.40" y="240.30" text-anchor="middle" font-family="Liberation Sans, sans-serif" font-size="7.4" fill="#111" stroke="#111" stroke-width="0.2" textLength="5.8" lengthAdjust="spacingAndGlyphs">10</text>
<text x="227.70" y="236.70" font-family="Liberation Sans, sans-serif" font-size="5.4" fill="#111" stroke="#111" stroke-width="0.15">3</text>
<line x1="231.81" y1="229.8" x2="231.81" y2="231.10000000000002" stroke="#333" stroke-width="0.6"/>
<line x1="235.92" y1="229.8" x2="235.92" y2="231.10000000000002" stroke="#333" stroke-width="0.6"/>
<line x1="238.83" y1="229.8" x2="238.83" y2="231.10000000000002" stroke="#333" stroke-width="0.6"/>
<line x1="241.09" y1="229.8" x2="241.09" y2="231.10000000000002" stroke="#333" stroke-width="0.6"/>
<line x1="242.93" y1="229.8" x2="242.93" y2="231.10000000000002" stroke="#333" stroke-width="0.6"/>
<line x1="244.49" y1="229.8" x2="244.49" y2="231.10000000000002" stroke="#333" stroke-width="0.6"/>
<line x1="245.84" y1="229.8" x2="245.84" y2="231.10000000000002" stroke="#333" stroke-width="0.6"/>
<line x1="247.03" y1="229.8" x2="247.03" y2="231.10000000000002" stroke="#333" stroke-width="0.6"/>
<line x1="248.10" y1="229.8" x2="248.10" y2="231.8" stroke="#222" stroke-width="0.8"/>
<text x="247.70" y="240.30" text-anchor="middle" font-family="Liberation Sans, sans-serif" font-size="7.4" fill="#111" stroke="#111" stroke-width="0.2" textLength="5.8" lengthAdjust="spacingAndGlyphs">10</text>
<text x="251.00" y="236.70" font-family="Liberation Sans, sans-serif" font-size="5.4" fill="#111" stroke="#111" stroke-width="0.15">4</text>
<text x="201.10" y="246.20" text-anchor="middle" font-family="Liberation Sans, sans-serif" font-size="6.4" fill="#1a1a1a" stroke="#1a1a1a" stroke-width="0.2" textLength="30" lengthAdjust="spacingAndGlyphs">FL2-Height</text>
<text x="166" y="155.5" font-family="Liberation Serif, serif" font-size="8.4" fill="#111" stroke="#111" stroke-width="0.2" textLength="21.2" lengthAdjust="spacingAndGlyphs">Jurkat</text>
<text x="196" y="155.5" font-family="Liberation Serif, serif" font-size="8.4" fill="#111" stroke="#111" stroke-width="0.2" textLength="22.9" lengthAdjust="spacingAndGlyphs">CXCR3</text>
<text x="225.7" y="155.5" font-family="Liberation Serif, serif" font-size="8.4" fill="#111" stroke="#111" stroke-width="0.2" textLength="19.8" lengthAdjust="spacingAndGlyphs">S245A</text>
<g>
<polygon points="290.7,228.7 291.4,226.7 293.1,224.7 294.9,220.6 296.2,213.7 296.9,206.9 297.5,200.0 298.2,189.8 299.2,174.9 300.3,159.9 301.0,148.0 302.0,147.5 302.6,154.3 303.9,167.4 305.2,182.3 306.5,200.0 307.2,206.9 307.9,213.7 309.3,220.6 311.3,224.7 313.0,226.5 316.0,227.8 325.0,228.7" fill="#0a0a0a" stroke="#0a0a0a" stroke-width="0.5"/>
<polyline points="304.3,189.2 305.3,183.5 306.2,180.6 307.2,179.6 308.2,181.5 309.1,185.4 310.1,189.2 311.0,193.1 312.0,197.9 313.0,202.7 313.9,207.5 314.9,211.3 315.8,214.2 317.4,218.1 318.7,221.0 320.7,222.9 323.5,224.2 327.4,225.4 333.2,226.2 340.8,226.7" fill="none" stroke="#444" stroke-width="1.3" stroke-linejoin="round"/>
<polyline points="305.7,180.5 304.6,190.0 303.6,200.0 302.6,210.0 301.2,218.0 299.8,224.0 298.8,228.0" fill="none" stroke="#505050" stroke-width="0.8" stroke-linejoin="round"/>
<line x1="310.1" y1="227.2" x2="377.4" y2="227.2" stroke="#444" stroke-width="2.2" stroke-dasharray="1.5 0.7 0.8 0.6 2 0.9"/>
<polyline points="307.8,226.7 308.2,225.8 309.1,220.0 310.1,214.2 311.0,210.4 312.0,207.5 313.0,206.2 313.9,205.6 315.3,206.5 316.8,207.5 318.2,208.5 319.7,208.8 321.2,209.4 322.6,208.1 323.9,206.5 325.5,205.6 326.8,203.7 328.0,201.7 328.9,202.7 329.9,204.6 330.8,206.5 332.2,210.4 333.5,214.2 335.1,218.1 337.0,221.5 338.9,223.5 340.8,224.2 343.7,224.8 348.5,225.8 356.2,226.7" fill="none" stroke="#0c0c0c" stroke-width="1.5" stroke-linejoin="round"/>
</g>
<line x1="290.7" y1="147.2" x2="380.8" y2="147.2" stroke="#2a2a2a" stroke-width="1.1"/>
<line x1="380.8" y1="147.2" x2="380.8" y2="228.7" stroke="#4a4a4a" stroke-width="1"/>
<line x1="290.7" y1="147.2" x2="290.7" y2="228.7" stroke="#222" stroke-width="1.2"/>
<line x1="290.7" y1="228.7" x2="380.8" y2="228.7" stroke="#111" stroke-width="1.4"/>
<line x1="288.7" y1="228.70" x2="290.7" y2="228.70" stroke="#222" stroke-width="0.8"/>
<text transform="translate(285.70,229.10) rotate(-90)" text-anchor="middle" font-family="Liberation Sans, sans-serif" font-size="6.5" fill="#1a1a1a" stroke="#1a1a1a" stroke-width="0.08">0</text>
<line x1="289.09999999999997" y1="226.66" x2="290.7" y2="226.66" stroke="#333" stroke-width="0.8"/>
<line x1="289.09999999999997" y1="224.62" x2="290.7" y2="224.62" stroke="#333" stroke-width="0.8"/>
<line x1="289.09999999999997" y1="222.59" x2="290.7" y2="222.59" stroke="#333" stroke-width="0.8"/>
<line x1="289.09999999999997" y1="220.55" x2="290.7" y2="220.55" stroke="#333" stroke-width="0.8"/>
<line x1="288.7" y1="218.51" x2="290.7" y2="218.51" stroke="#222" stroke-width="0.8"/>
<text transform="translate(285.70,218.91) rotate(-90)" text-anchor="middle" font-family="Liberation Sans, sans-serif" font-size="6.5" fill="#1a1a1a" stroke="#1a1a1a" stroke-width="0.08">10</text>
<line x1="289.09999999999997" y1="216.47" x2="290.7" y2="216.47" stroke="#333" stroke-width="0.8"/>
<line x1="289.09999999999997" y1="214.44" x2="290.7" y2="214.44" stroke="#333" stroke-width="0.8"/>
<line x1="289.09999999999997" y1="212.40" x2="290.7" y2="212.40" stroke="#333" stroke-width="0.8"/>
<line x1="289.09999999999997" y1="210.36" x2="290.7" y2="210.36" stroke="#333" stroke-width="0.8"/>
<line x1="288.7" y1="208.32" x2="290.7" y2="208.32" stroke="#222" stroke-width="0.8"/>
<text transform="translate(285.70,208.72) rotate(-90)" text-anchor="middle" font-family="Liberation Sans, sans-serif" font-size="6.5" fill="#1a1a1a" stroke="#1a1a1a" stroke-width="0.08">20</text>
<line x1="289.09999999999997" y1="206.29" x2="290.7" y2="206.29" stroke="#333" stroke-width="0.8"/>
<line x1="289.09999999999997" y1="204.25" x2="290.7" y2="204.25" stroke="#333" stroke-width="0.8"/>
<line x1="289.09999999999997" y1="202.21" x2="290.7" y2="202.21" stroke="#333" stroke-width="0.8"/>
<line x1="289.09999999999997" y1="200.17" x2="290.7" y2="200.17" stroke="#333" stroke-width="0.8"/>
<line x1="288.7" y1="198.14" x2="290.7" y2="198.14" stroke="#222" stroke-width="0.8"/>
<text transform="translate(285.70,198.54) rotate(-90)" text-anchor="middle" font-family="Liberation Sans, sans-serif" font-size="6.5" fill="#1a1a1a" stroke="#1a1a1a" stroke-width="0.08">30</text>
<line x1="289.09999999999997" y1="196.10" x2="290.7" y2="196.10" stroke="#333" stroke-width="0.8"/>
<line x1="289.09999999999997" y1="194.06" x2="290.7" y2="194.06" stroke="#333" stroke-width="0.8"/>
<line x1="289.09999999999997" y1="192.02" x2="290.7" y2="192.02" stroke="#333" stroke-width="0.8"/>
<line x1="289.09999999999997" y1="189.99" x2="290.7" y2="189.99" stroke="#333" stroke-width="0.8"/>
<line x1="288.7" y1="187.95" x2="290.7" y2="187.95" stroke="#222" stroke-width="0.8"/>
<text transform="translate(285.70,188.35) rotate(-90)" text-anchor="middle" font-family="Liberation Sans, sans-serif" font-size="6.5" fill="#1a1a1a" stroke="#1a1a1a" stroke-width="0.08">40</text>
<line x1="289.09999999999997" y1="185.91" x2="290.7" y2="185.91" stroke="#333" stroke-width="0.8"/>
<line x1="289.09999999999997" y1="183.88" x2="290.7" y2="183.88" stroke="#333" stroke-width="0.8"/>
<line x1="289.09999999999997" y1="181.84" x2="290.7" y2="181.84" stroke="#333" stroke-width="0.8"/>
<line x1="289.09999999999997" y1="179.80" x2="290.7" y2="179.80" stroke="#333" stroke-width="0.8"/>
<line x1="288.7" y1="177.76" x2="290.7" y2="177.76" stroke="#222" stroke-width="0.8"/>
<text transform="translate(285.70,178.16) rotate(-90)" text-anchor="middle" font-family="Liberation Sans, sans-serif" font-size="6.5" fill="#1a1a1a" stroke="#1a1a1a" stroke-width="0.08">50</text>
<line x1="289.09999999999997" y1="175.72" x2="290.7" y2="175.72" stroke="#333" stroke-width="0.8"/>
<line x1="289.09999999999997" y1="173.69" x2="290.7" y2="173.69" stroke="#333" stroke-width="0.8"/>
<line x1="289.09999999999997" y1="171.65" x2="290.7" y2="171.65" stroke="#333" stroke-width="0.8"/>
<line x1="289.09999999999997" y1="169.61" x2="290.7" y2="169.61" stroke="#333" stroke-width="0.8"/>
<line x1="288.7" y1="167.57" x2="290.7" y2="167.57" stroke="#222" stroke-width="0.8"/>
<text transform="translate(285.70,167.97) rotate(-90)" text-anchor="middle" font-family="Liberation Sans, sans-serif" font-size="6.5" fill="#1a1a1a" stroke="#1a1a1a" stroke-width="0.08">60</text>
<line x1="289.09999999999997" y1="165.54" x2="290.7" y2="165.54" stroke="#333" stroke-width="0.8"/>
<line x1="289.09999999999997" y1="163.50" x2="290.7" y2="163.50" stroke="#333" stroke-width="0.8"/>
<line x1="289.09999999999997" y1="161.46" x2="290.7" y2="161.46" stroke="#333" stroke-width="0.8"/>
<line x1="289.09999999999997" y1="159.42" x2="290.7" y2="159.42" stroke="#333" stroke-width="0.8"/>
<line x1="288.7" y1="157.39" x2="290.7" y2="157.39" stroke="#222" stroke-width="0.8"/>
<text transform="translate(285.70,157.79) rotate(-90)" text-anchor="middle" font-family="Liberation Sans, sans-serif" font-size="6.5" fill="#1a1a1a" stroke="#1a1a1a" stroke-width="0.08">70</text>
<line x1="289.09999999999997" y1="155.35" x2="290.7" y2="155.35" stroke="#333" stroke-width="0.8"/>
<line x1="289.09999999999997" y1="153.31" x2="290.7" y2="153.31" stroke="#333" stroke-width="0.8"/>
<line x1="289.09999999999997" y1="151.27" x2="290.7" y2="151.27" stroke="#333" stroke-width="0.8"/>
<line x1="289.09999999999997" y1="149.24" x2="290.7" y2="149.24" stroke="#333" stroke-width="0.8"/>
<line x1="288.7" y1="147.20" x2="290.7" y2="147.20" stroke="#222" stroke-width="0.8"/>
<text transform="translate(285.70,147.60) rotate(-90)" text-anchor="middle" font-family="Liberation Sans, sans-serif" font-size="6.5" fill="#1a1a1a" stroke="#1a1a1a" stroke-width="0.08">80</text>
<text transform="translate(278.40,189.75) rotate(-90)" text-anchor="middle" font-family="Liberation Sans, sans-serif" font-size="5.7" fill="#1a1a1a" stroke="#1a1a1a" stroke-width="0.12" textLength="20.5" lengthAdjust="spacingAndGlyphs">Counts</text>
<line x1="290.70" y1="228.7" x2="290.70" y2="230.7" stroke="#222" stroke-width="0.8"/>
<text x="290.30" y="239.20" text-anchor="middle" font-family="Liberation Sans, sans-serif" font-size="7.4" fill="#111" stroke="#111" stroke-width="0.2" textLength="5.8" lengthAdjust="spacingAndGlyphs">10</text>
<text x="293.60" y="235.60" font-family="Liberation Sans, sans-serif" font-size="5.4" fill="#111" stroke="#111" stroke-width="0.15">0</text>
<line x1="297.48" y1="228.7" x2="297.48" y2="230.0" stroke="#333" stroke-width="0.6"/>
<line x1="301.45" y1="228.7" x2="301.45" y2="230.0" stroke="#333" stroke-width="0.6"/>
<line x1="304.26" y1="228.7" x2="304.26" y2="230.0" stroke="#333" stroke-width="0.6"/>
<line x1="306.44" y1="228.7" x2="306.44" y2="230.0" stroke="#333" stroke-width="0.6"/>
<line x1="308.23" y1="228.7" x2="308.23" y2="230.0" stroke="#333" stroke-width="0.6"/>
<line x1="309.74" y1="228.7" x2="309.74" y2="230.0" stroke="#333" stroke-width="0.6"/>
<line x1="311.04" y1="228.7" x2="311.04" y2="230.0" stroke="#333" stroke-width="0.6"/>
<line x1="312.19" y1="228.7" x2="312.19" y2="230.0" stroke="#333" stroke-width="0.6"/>
<line x1="313.23" y1="228.7" x2="313.23" y2="230.7" stroke="#222" stroke-width="0.8"/>
<text x="312.83" y="239.20" text-anchor="middle" font-family="Liberation Sans, sans-serif" font-size="7.4" fill="#111" stroke="#111" stroke-width="0.2" textLength="5.8" lengthAdjust="spacingAndGlyphs">10</text>
<text x="316.12" y="235.60" font-family="Liberation Sans, sans-serif" font-size="5.4" fill="#111" stroke="#111" stroke-width="0.15">1</text>
<line x1="320.01" y1="228.7" x2="320.01" y2="230.0" stroke="#333" stroke-width="0.6"/>
<line x1="323.97" y1="228.7" x2="323.97" y2="230.0" stroke="#333" stroke-width="0.6"/>
<line x1="326.79" y1="228.7" x2="326.79" y2="230.0" stroke="#333" stroke-width="0.6"/>
<line x1="328.97" y1="228.7" x2="328.97" y2="230.0" stroke="#333" stroke-width="0.6"/>
<line x1="330.75" y1="228.7" x2="330.75" y2="230.0" stroke="#333" stroke-width="0.6"/>
<line x1="332.26" y1="228.7" x2="332.26" y2="230.0" stroke="#333" stroke-width="0.6"/>
<line x1="333.57" y1="228.7" x2="333.57" y2="230.0" stroke="#333" stroke-width="0.6"/>
<line x1="334.72" y1="228.7" x2="334.72" y2="230.0" stroke="#333" stroke-width="0.6"/>
<line x1="335.75" y1="228.7" x2="335.75" y2="230.7" stroke="#222" stroke-width="0.8"/>
<text x="335.35" y="239.20" text-anchor="middle" font-family="Liberation Sans, sans-serif" font-size="7.4" fill="#111" stroke="#111" stroke-width="0.2" textLength="5.8" lengthAdjust="spacingAndGlyphs">10</text>
<text x="338.65" y="235.60" font-family="Liberation Sans, sans-serif" font-size="5.4" fill="#111" stroke="#111" stroke-width="0.15">2</text>
<line x1="342.53" y1="228.7" x2="342.53" y2="230.0" stroke="#333" stroke-width="0.6"/>
<line x1="346.50" y1="228.7" x2="346.50" y2="230.0" stroke="#333" stroke-width="0.6"/>
<line x1="349.31" y1="228.7" x2="349.31" y2="230.0" stroke="#333" stroke-width="0.6"/>
<line x1="351.49" y1="228.7" x2="351.49" y2="230.0" stroke="#333" stroke-width="0.6"/>
<line x1="353.28" y1="228.7" x2="353.28" y2="230.0" stroke="#333" stroke-width="0.6"/>
<line x1="354.79" y1="228.7" x2="354.79" y2="230.0" stroke="#333" stroke-width="0.6"/>
<line x1="356.09" y1="228.7" x2="356.09" y2="230.0" stroke="#333" stroke-width="0.6"/>
<line x1="357.24" y1="228.7" x2="357.24" y2="230.0" stroke="#333" stroke-width="0.6"/>
<line x1="358.27" y1="228.7" x2="358.27" y2="230.7" stroke="#222" stroke-width="0.8"/>
<text x="357.88" y="239.20" text-anchor="middle" font-family="Liberation Sans, sans-serif" font-size="7.4" fill="#111" stroke="#111" stroke-width="0.2" textLength="5.8" lengthAdjust="spacingAndGlyphs">10</text>
<text x="361.17" y="235.60" font-family="Liberation Sans, sans-serif" font-size="5.4" fill="#111" stroke="#111" stroke-width="0.15">3</text>
<line x1="365.06" y1="228.7" x2="365.06" y2="230.0" stroke="#333" stroke-width="0.6"/>
<line x1="369.02" y1="228.7" x2="369.02" y2="230.0" stroke="#333" stroke-width="0.6"/>
<line x1="371.84" y1="228.7" x2="371.84" y2="230.0" stroke="#333" stroke-width="0.6"/>
<line x1="374.02" y1="228.7" x2="374.02" y2="230.0" stroke="#333" stroke-width="0.6"/>
<line x1="375.80" y1="228.7" x2="375.80" y2="230.0" stroke="#333" stroke-width="0.6"/>
<line x1="377.31" y1="228.7" x2="377.31" y2="230.0" stroke="#333" stroke-width="0.6"/>
<line x1="378.62" y1="228.7" x2="378.62" y2="230.0" stroke="#333" stroke-width="0.6"/>
<line x1="379.77" y1="228.7" x2="379.77" y2="230.0" stroke="#333" stroke-width="0.6"/>
<line x1="380.80" y1="228.7" x2="380.80" y2="230.7" stroke="#222" stroke-width="0.8"/>
<text x="380.40" y="239.20" text-anchor="middle" font-family="Liberation Sans, sans-serif" font-size="7.4" fill="#111" stroke="#111" stroke-width="0.2" textLength="5.8" lengthAdjust="spacingAndGlyphs">10</text>
<text x="383.70" y="235.60" font-family="Liberation Sans, sans-serif" font-size="5.4" fill="#111" stroke="#111" stroke-width="0.15">4</text>
<text x="335.35" y="245.10" text-anchor="middle" font-family="Liberation Sans, sans-serif" font-size="6.4" fill="#1a1a1a" stroke="#1a1a1a" stroke-width="0.2" textLength="30" lengthAdjust="spacingAndGlyphs">FL2-Height</text>
<text x="305.1" y="156.8" font-family="Liberation Serif, serif" font-size="8.4" fill="#111" stroke="#111" stroke-width="0.2" textLength="16.1" lengthAdjust="spacingAndGlyphs">YTS</text>
<text x="330.1" y="156.8" font-family="Liberation Serif, serif" font-size="8.4" fill="#111" stroke="#111" stroke-width="0.2" textLength="22.2" lengthAdjust="spacingAndGlyphs">CXCR3</text>
<text x="360.1" y="156.8" font-family="Liberation Serif, serif" font-size="8.4" fill="#111" stroke="#111" stroke-width="0.2" textLength="19.1" lengthAdjust="spacingAndGlyphs">S245A</text>
<g>
<polygon points="422.3,229.5 422.3,212.9 424.4,213.5 425.0,222.8 425.4,222.8 427.1,217.8 428.7,204.6 430.4,188.0 432.0,171.5 433.0,166.0 433.7,163.3 434.5,166.0 435.4,171.5 437.0,184.8 438.7,196.3 441.1,207.9 444.4,216.2 448.6,221.1 452.7,224.4 457.7,226.1 462.0,227.5 468.0,229.5" fill="#0a0a0a" stroke="#0a0a0a" stroke-width="0.5"/>
<polyline points="447.8,226.7 450.9,225.6 453.2,223.3 454.7,220.2 456.3,216.4 457.8,211.7 459.4,206.3 460.9,201.7 462.5,198.6 464.0,196.8 465.6,195.8 467.1,195.2 468.6,194.3 469.7,193.7 471.0,192.4 471.9,194.7 472.8,197.1 474.1,198.6 475.6,199.4 477.1,198.3 478.4,197.8 479.5,201.4 481.0,206.3 482.5,210.2 484.1,213.3 485.6,216.4 488.0,219.9 490.3,222.2 492.6,223.8 495.7,225.3 498.8,226.1" fill="none" stroke="#333" stroke-width="1.2" stroke-linejoin="round"/>
<line x1="446.8" y1="228.0" x2="508.4" y2="228.0" stroke="#444" stroke-width="2.2" stroke-dasharray="1.5 0.7 0.8 0.6 2 0.9"/>
<polyline points="449.3,227.2 452.4,225.6 454.3,222.5 455.8,219.5 457.4,214.8 458.9,209.4 460.5,204.8 462.0,201.7 463.6,199.8 465.1,198.9 466.6,198.6 468.2,199.4 469.7,197.8 471.0,197.1 472.2,199.4 473.7,200.5 475.3,200.9 476.8,200.5 478.4,199.4 479.6,202.5 481.2,207.1 482.7,211.7 484.2,215.6 486.1,219.0 488.3,221.8 490.7,223.6 493.4,224.9 496.4,226.1 499.5,226.7" fill="none" stroke="#0c0c0c" stroke-width="1.5" stroke-linejoin="round"/>
</g>
<line x1="422.3" y1="146.9" x2="512.9" y2="146.9" stroke="#2a2a2a" stroke-width="1.1"/>
<line x1="512.9" y1="146.9" x2="512.9" y2="229.5" stroke="#4a4a4a" stroke-width="1"/>
<line x1="422.3" y1="146.9" x2="422.3" y2="229.5" stroke="#222" stroke-width="1.2"/>
<line x1="422.3" y1="229.5" x2="512.9" y2="229.5" stroke="#111" stroke-width="1.4"/>
<line x1="420.3" y1="229.50" x2="422.3" y2="229.50" stroke="#222" stroke-width="0.8"/>
<text transform="translate(417.30,229.90) rotate(-90)" text-anchor="middle" font-family="Liberation Sans, sans-serif" font-size="6.5" fill="#1a1a1a" stroke="#1a1a1a" stroke-width="0.08">0</text>
<line x1="420.7" y1="226.20" x2="422.3" y2="226.20" stroke="#333" stroke-width="0.8"/>
<line x1="420.7" y1="222.89" x2="422.3" y2="222.89" stroke="#333" stroke-width="0.8"/>
<line x1="420.7" y1="219.59" x2="422.3" y2="219.59" stroke="#333" stroke-width="0.8"/>
<line x1="420.7" y1="216.28" x2="422.3" y2="216.28" stroke="#333" stroke-width="0.8"/>
<line x1="420.3" y1="212.98" x2="422.3" y2="212.98" stroke="#222" stroke-width="0.8"/>
<text transform="translate(417.30,213.38) rotate(-90)" text-anchor="middle" font-family="Liberation Sans, sans-serif" font-size="6.5" fill="#1a1a1a" stroke="#1a1a1a" stroke-width="0.08">20</text>
<line x1="420.7" y1="209.68" x2="422.3" y2="209.68" stroke="#333" stroke-width="0.8"/>
<line x1="420.7" y1="206.37" x2="422.3" y2="206.37" stroke="#333" stroke-width="0.8"/>
<line x1="420.7" y1="203.07" x2="422.3" y2="203.07" stroke="#333" stroke-width="0.8"/>
<line x1="420.7" y1="199.76" x2="422.3" y2="199.76" stroke="#333" stroke-width="0.8"/>
<line x1="420.3" y1="196.46" x2="422.3" y2="196.46" stroke="#222" stroke-width="0.8"/>
<text transform="translate(417.30,196.86) rotate(-90)" text-anchor="middle" font-family="Liberation Sans, sans-serif" font-size="6.5" fill="#1a1a1a" stroke="#1a1a1a" stroke-width="0.08">40</text>
<line x1="420.7" y1="193.16" x2="422.3" y2="193.16" stroke="#333" stroke-width="0.8"/>
<line x1="420.7" y1="189.85" x2="422.3" y2="189.85" stroke="#333" stroke-width="0.8"/>
<line x1="420.7" y1="186.55" x2="422.3" y2="186.55" stroke="#333" stroke-width="0.8"/>
<line x1="420.7" y1="183.24" x2="422.3" y2="183.24" stroke="#333" stroke-width="0.8"/>
<line x1="420.3" y1="179.94" x2="422.3" y2="179.94" stroke="#222" stroke-width="0.8"/>
<text transform="translate(417.30,180.34) rotate(-90)" text-anchor="middle" font-family="Liberation Sans, sans-serif" font-size="6.5" fill="#1a1a1a" stroke="#1a1a1a" stroke-width="0.08">60</text>
<line x1="420.7" y1="176.64" x2="422.3" y2="176.64" stroke="#333" stroke-width="0.8"/>
<line x1="420.7" y1="173.33" x2="422.3" y2="173.33" stroke="#333" stroke-width="0.8"/>
<line x1="420.7" y1="170.03" x2="422.3" y2="170.03" stroke="#333" stroke-width="0.8"/>
<line x1="420.7" y1="166.72" x2="422.3" y2="166.72" stroke="#333" stroke-width="0.8"/>
<line x1="420.3" y1="163.42" x2="422.3" y2="163.42" stroke="#222" stroke-width="0.8"/>
<text transform="translate(417.30,163.82) rotate(-90)" text-anchor="middle" font-family="Liberation Sans, sans-serif" font-size="6.5" fill="#1a1a1a" stroke="#1a1a1a" stroke-width="0.08">80</text>
<line x1="420.7" y1="160.12" x2="422.3" y2="160.12" stroke="#333" stroke-width="0.8"/>
<line x1="420.7" y1="156.81" x2="422.3" y2="156.81" stroke="#333" stroke-width="0.8"/>
<line x1="420.7" y1="153.51" x2="422.3" y2="153.51" stroke="#333" stroke-width="0.8"/>
<line x1="420.7" y1="150.20" x2="422.3" y2="150.20" stroke="#333" stroke-width="0.8"/>
<line x1="420.3" y1="146.90" x2="422.3" y2="146.90" stroke="#222" stroke-width="0.8"/>
<text transform="translate(417.30,147.30) rotate(-90)" text-anchor="middle" font-family="Liberation Sans, sans-serif" font-size="6.5" fill="#1a1a1a" stroke="#1a1a1a" stroke-width="0.08">100</text>
<text transform="translate(410.00,190.00) rotate(-90)" text-anchor="middle" font-family="Liberation Sans, sans-serif" font-size="5.7" fill="#1a1a1a" stroke="#1a1a1a" stroke-width="0.12" textLength="20.5" lengthAdjust="spacingAndGlyphs">Counts</text>
<line x1="422.30" y1="229.5" x2="422.30" y2="231.5" stroke="#222" stroke-width="0.8"/>
<text x="421.90" y="240.00" text-anchor="middle" font-family="Liberation Sans, sans-serif" font-size="7.4" fill="#111" stroke="#111" stroke-width="0.2" textLength="5.8" lengthAdjust="spacingAndGlyphs">10</text>
<text x="425.20" y="236.40" font-family="Liberation Sans, sans-serif" font-size="5.4" fill="#111" stroke="#111" stroke-width="0.15">0</text>
<line x1="429.12" y1="229.5" x2="429.12" y2="230.8" stroke="#333" stroke-width="0.6"/>
<line x1="433.11" y1="229.5" x2="433.11" y2="230.8" stroke="#333" stroke-width="0.6"/>
<line x1="435.94" y1="229.5" x2="435.94" y2="230.8" stroke="#333" stroke-width="0.6"/>
<line x1="438.13" y1="229.5" x2="438.13" y2="230.8" stroke="#333" stroke-width="0.6"/>
<line x1="439.93" y1="229.5" x2="439.93" y2="230.8" stroke="#333" stroke-width="0.6"/>
<line x1="441.44" y1="229.5" x2="441.44" y2="230.8" stroke="#333" stroke-width="0.6"/>
<line x1="442.75" y1="229.5" x2="442.75" y2="230.8" stroke="#333" stroke-width="0.6"/>
<line x1="443.91" y1="229.5" x2="443.91" y2="230.8" stroke="#333" stroke-width="0.6"/>
<line x1="444.95" y1="229.5" x2="444.95" y2="231.5" stroke="#222" stroke-width="0.8"/>
<text x="444.55" y="240.00" text-anchor="middle" font-family="Liberation Sans, sans-serif" font-size="7.4" fill="#111" stroke="#111" stroke-width="0.2" textLength="5.8" lengthAdjust="spacingAndGlyphs">10</text>
<text x="447.85" y="236.40" font-family="Liberation Sans, sans-serif" font-size="5.4" fill="#111" stroke="#111" stroke-width="0.15">1</text>
<line x1="451.77" y1="229.5" x2="451.77" y2="230.8" stroke="#333" stroke-width="0.6"/>
<line x1="455.76" y1="229.5" x2="455.76" y2="230.8" stroke="#333" stroke-width="0.6"/>
<line x1="458.59" y1="229.5" x2="458.59" y2="230.8" stroke="#333" stroke-width="0.6"/>
<line x1="460.78" y1="229.5" x2="460.78" y2="230.8" stroke="#333" stroke-width="0.6"/>
<line x1="462.58" y1="229.5" x2="462.58" y2="230.8" stroke="#333" stroke-width="0.6"/>
<line x1="464.09" y1="229.5" x2="464.09" y2="230.8" stroke="#333" stroke-width="0.6"/>
<line x1="465.40" y1="229.5" x2="465.40" y2="230.8" stroke="#333" stroke-width="0.6"/>
<line x1="466.56" y1="229.5" x2="466.56" y2="230.8" stroke="#333" stroke-width="0.6"/>
<line x1="467.60" y1="229.5" x2="467.60" y2="231.5" stroke="#222" stroke-width="0.8"/>
<text x="467.20" y="240.00" text-anchor="middle" font-family="Liberation Sans, sans-serif" font-size="7.4" fill="#111" stroke="#111" stroke-width="0.2" textLength="5.8" lengthAdjust="spacingAndGlyphs">10</text>
<text x="470.50" y="236.40" font-family="Liberation Sans, sans-serif" font-size="5.4" fill="#111" stroke="#111" stroke-width="0.15">2</text>
<line x1="474.42" y1="229.5" x2="474.42" y2="230.8" stroke="#333" stroke-width="0.6"/>
<line x1="478.41" y1="229.5" x2="478.41" y2="230.8" stroke="#333" stroke-width="0.6"/>
<line x1="481.24" y1="229.5" x2="481.24" y2="230.8" stroke="#333" stroke-width="0.6"/>
<line x1="483.43" y1="229.5" x2="483.43" y2="230.8" stroke="#333" stroke-width="0.6"/>
<line x1="485.23" y1="229.5" x2="485.23" y2="230.8" stroke="#333" stroke-width="0.6"/>
<line x1="486.74" y1="229.5" x2="486.74" y2="230.8" stroke="#333" stroke-width="0.6"/>
<line x1="488.05" y1="229.5" x2="488.05" y2="230.8" stroke="#333" stroke-width="0.6"/>
<line x1="489.21" y1="229.5" x2="489.21" y2="230.8" stroke="#333" stroke-width="0.6"/>
<line x1="490.25" y1="229.5" x2="490.25" y2="231.5" stroke="#222" stroke-width="0.8"/>
<text x="489.85" y="240.00" text-anchor="middle" font-family="Liberation Sans, sans-serif" font-size="7.4" fill="#111" stroke="#111" stroke-width="0.2" textLength="5.8" lengthAdjust="spacingAndGlyphs">10</text>
<text x="493.15" y="236.40" font-family="Liberation Sans, sans-serif" font-size="5.4" fill="#111" stroke="#111" stroke-width="0.15">3</text>
<line x1="497.07" y1="229.5" x2="497.07" y2="230.8" stroke="#333" stroke-width="0.6"/>
<line x1="501.06" y1="229.5" x2="501.06" y2="230.8" stroke="#333" stroke-width="0.6"/>
<line x1="503.89" y1="229.5" x2="503.89" y2="230.8" stroke="#333" stroke-width="0.6"/>
<line x1="506.08" y1="229.5" x2="506.08" y2="230.8" stroke="#333" stroke-width="0.6"/>
<line x1="507.88" y1="229.5" x2="507.88" y2="230.8" stroke="#333" stroke-width="0.6"/>
<line x1="509.39" y1="229.5" x2="509.39" y2="230.8" stroke="#333" stroke-width="0.6"/>
<line x1="510.70" y1="229.5" x2="510.70" y2="230.8" stroke="#333" stroke-width="0.6"/>
<line x1="511.86" y1="229.5" x2="511.86" y2="230.8" stroke="#333" stroke-width="0.6"/>
<line x1="512.90" y1="229.5" x2="512.90" y2="231.5" stroke="#222" stroke-width="0.8"/>
<text x="512.50" y="240.00" text-anchor="middle" font-family="Liberation Sans, sans-serif" font-size="7.4" fill="#111" stroke="#111" stroke-width="0.2" textLength="5.8" lengthAdjust="spacingAndGlyphs">10</text>
<text x="515.80" y="236.40" font-family="Liberation Sans, sans-serif" font-size="5.4" fill="#111" stroke="#111" stroke-width="0.15">4</text>
<text x="467.20" y="245.90" text-anchor="middle" font-family="Liberation Sans, sans-serif" font-size="6.4" fill="#1a1a1a" stroke="#1a1a1a" stroke-width="0.2" textLength="30" lengthAdjust="spacingAndGlyphs">FL2-Height</text>
<text x="435.1" y="155.9" font-family="Liberation Serif, serif" font-size="8.4" fill="#111" stroke="#111" stroke-width="0.2" textLength="16.8" lengthAdjust="spacingAndGlyphs">RBL</text>
<text x="460.8" y="155.9" font-family="Liberation Serif, serif" font-size="8.4" fill="#111" stroke="#111" stroke-width="0.2" textLength="49.8" lengthAdjust="spacingAndGlyphs">CXCR3-S245A</text>
<text transform="translate(1.2,15.7) scale(1.12,1)" font-family="Liberation Sans, sans-serif" font-weight="bold" font-size="17.8" fill="#111" stroke="#111" stroke-width="0.35">A</text>
<text x="1.2" y="273.7" font-family="Liberation Sans, sans-serif" font-weight="bold" font-size="17.8" fill="#111">B</text>
<text x="270.8" y="274.3" font-family="Liberation Sans, sans-serif" font-weight="bold" font-size="17.8" fill="#111">C</text>
<rect x="37.9" y="282.3" width="209.9" height="142.39999999999998" fill="none" stroke="#6a6a6a" stroke-width="1"/>
<line x1="37.9" y1="282.3" x2="37.9" y2="424.7" stroke="#333" stroke-width="1.1"/>
<line x1="37.9" y1="424.7" x2="247.8" y2="424.7" stroke="#222" stroke-width="1.1"/>
<line x1="34.699999999999996" y1="424.70" x2="37.9" y2="424.70" stroke="#333" stroke-width="1"/>
<text x="30.6" y="428.40" text-anchor="end" font-family="Liberation Sans, sans-serif" font-size="10.3" fill="#111" stroke="#111" stroke-width="0.3">0</text>
<line x1="34.699999999999996" y1="400.97" x2="37.9" y2="400.97" stroke="#333" stroke-width="1"/>
<text x="30.6" y="404.67" text-anchor="end" font-family="Liberation Sans, sans-serif" font-size="10.3" fill="#111" stroke="#111" stroke-width="0.3">5</text>
<line x1="34.699999999999996" y1="377.23" x2="37.9" y2="377.23" stroke="#333" stroke-width="1"/>
<text x="30.6" y="380.93" text-anchor="end" font-family="Liberation Sans, sans-serif" font-size="10.3" fill="#111" stroke="#111" stroke-width="0.3">10</text>
<line x1="34.699999999999996" y1="353.50" x2="37.9" y2="353.50" stroke="#333" stroke-width="1"/>
<text x="30.6" y="357.20" text-anchor="end" font-family="Liberation Sans, sans-serif" font-size="10.3" fill="#111" stroke="#111" stroke-width="0.3">15</text>
<line x1="34.699999999999996" y1="329.77" x2="37.9" y2="329.77" stroke="#333" stroke-width="1"/>
<text x="30.6" y="333.47" text-anchor="end" font-family="Liberation Sans, sans-serif" font-size="10.3" fill="#111" stroke="#111" stroke-width="0.3">20</text>
<line x1="34.699999999999996" y1="306.03" x2="37.9" y2="306.03" stroke="#333" stroke-width="1"/>
<text x="30.6" y="309.73" text-anchor="end" font-family="Liberation Sans, sans-serif" font-size="10.3" fill="#111" stroke="#111" stroke-width="0.3">25</text>
<line x1="34.699999999999996" y1="282.30" x2="37.9" y2="282.30" stroke="#333" stroke-width="1"/>
<text x="30.6" y="286.00" text-anchor="end" font-family="Liberation Sans, sans-serif" font-size="10.3" fill="#111" stroke="#111" stroke-width="0.3">30</text>
<line x1="37.90" y1="424.7" x2="37.90" y2="427.9" stroke="#333" stroke-width="1"/>
<line x1="107.87" y1="424.7" x2="107.87" y2="427.9" stroke="#333" stroke-width="1"/>
<line x1="177.83" y1="424.7" x2="177.83" y2="427.9" stroke="#333" stroke-width="1"/>
<line x1="247.80" y1="424.7" x2="247.80" y2="427.9" stroke="#333" stroke-width="1"/>
<text x="73.6" y="443.9" text-anchor="middle" font-family="Liberation Sans, sans-serif" font-size="10.2" fill="#111" stroke="#111" stroke-width="0.3">50</text>
<text x="143.8" y="443.9" text-anchor="middle" font-family="Liberation Sans, sans-serif" font-size="10.2" fill="#111" stroke="#111" stroke-width="0.3">250</text>
<text x="213.8" y="443.9" text-anchor="middle" font-family="Liberation Sans, sans-serif" font-size="10.2" fill="#111" stroke="#111" stroke-width="0.3">500</text>
<rect x="43.1" y="423.42" width="20.20" height="1.28" fill="#1c1c1c" stroke="#141414" stroke-width="0.9"/>
<rect x="63.3" y="411.41" width="20.20" height="13.29" fill="#3e3e3e" stroke="#141414" stroke-width="0.9"/>
<rect x="183.1" y="420.05" width="20.00" height="4.65" fill="#1c1c1c" stroke="#141414" stroke-width="0.9"/>
<rect x="203.1" y="414.02" width="20.70" height="10.68" fill="#3e3e3e" stroke="#141414" stroke-width="0.9"/>
<text x="144.5" y="460.8" text-anchor="middle" font-family="Liberation Sans, sans-serif" font-weight="bold" font-size="10.45" fill="#111" stroke="#111" stroke-width="0.25">CXCL11 (ng/mL)</text>
<text transform="translate(11.6,390.9) rotate(-90)" font-family="Liberation Sans, sans-serif" font-weight="bold" font-size="11.3" fill="#111" stroke="#111" stroke-width="0.3" textLength="50.6" lengthAdjust="spacingAndGlyphs">Migration</text>
<text transform="translate(11.6,336.3) rotate(-90)" font-family="Liberation Sans, sans-serif" font-weight="bold" font-size="11.3" fill="#111" stroke="#111" stroke-width="0.3" textLength="16.8" lengthAdjust="spacingAndGlyphs">(%)</text>
<rect x="45.4" y="284.4" width="52" height="56" fill="#fff" stroke="#505050" stroke-width="1"/>
<rect x="48.9" y="291.40" width="5.8" height="6" fill="#1c1c1c" stroke="#111" stroke-width="0.9"/>
<text x="58.4" y="297.2" font-family="Liberation Sans, sans-serif" font-size="10" fill="#111" stroke="#111" stroke-width="0.3">S245A</text>
<rect x="48.9" y="309.80" width="5.8" height="6" fill="#3e3e3e" stroke="#111" stroke-width="0.9"/>
<text x="58.4" y="316.1" font-family="Liberation Sans, sans-serif" font-size="10" fill="#111" stroke="#111" stroke-width="0.3">WT</text>
<rect x="48.9" y="328.70" width="5.8" height="6" fill="#fff" stroke="#111" stroke-width="0.9"/>
<text x="58.4" y="334.8" font-family="Liberation Sans, sans-serif" font-size="10" fill="#111" stroke="#111" stroke-width="0.3">Parental</text>
<rect x="307.2" y="295.9" width="210.50000000000006" height="128.5" fill="none" stroke="#6a6a6a" stroke-width="1"/>
<line x1="307.2" y1="295.9" x2="307.2" y2="424.4" stroke="#333" stroke-width="1.1"/>
<line x1="307.2" y1="424.4" x2="517.7" y2="424.4" stroke="#222" stroke-width="1.1"/>
<line x1="304.0" y1="424.40" x2="307.2" y2="424.40" stroke="#333" stroke-width="1"/>
<text x="300.4" y="428.10" text-anchor="end" font-family="Liberation Sans, sans-serif" font-size="10.3" fill="#111" stroke="#111" stroke-width="0.3">0</text>
<line x1="304.0" y1="402.98" x2="307.2" y2="402.98" stroke="#333" stroke-width="1"/>
<text x="300.4" y="406.68" text-anchor="end" font-family="Liberation Sans, sans-serif" font-size="10.3" fill="#111" stroke="#111" stroke-width="0.3">5</text>
<line x1="304.0" y1="381.57" x2="307.2" y2="381.57" stroke="#333" stroke-width="1"/>
<text x="300.4" y="385.27" text-anchor="end" font-family="Liberation Sans, sans-serif" font-size="10.3" fill="#111" stroke="#111" stroke-width="0.3">10</text>
<line x1="304.0" y1="360.15" x2="307.2" y2="360.15" stroke="#333" stroke-width="1"/>
<text x="300.4" y="363.85" text-anchor="end" font-family="Liberation Sans, sans-serif" font-size="10.3" fill="#111" stroke="#111" stroke-width="0.3">15</text>
<line x1="304.0" y1="338.73" x2="307.2" y2="338.73" stroke="#333" stroke-width="1"/>
<text x="300.4" y="342.43" text-anchor="end" font-family="Liberation Sans, sans-serif" font-size="10.3" fill="#111" stroke="#111" stroke-width="0.3">20</text>
<line x1="304.0" y1="317.32" x2="307.2" y2="317.32" stroke="#333" stroke-width="1"/>
<text x="300.4" y="321.02" text-anchor="end" font-family="Liberation Sans, sans-serif" font-size="10.3" fill="#111" stroke="#111" stroke-width="0.3">25</text>
<line x1="304.0" y1="295.90" x2="307.2" y2="295.90" stroke="#333" stroke-width="1"/>
<text x="300.4" y="299.60" text-anchor="end" font-family="Liberation Sans, sans-serif" font-size="10.3" fill="#111" stroke="#111" stroke-width="0.3">30</text>
<line x1="307.20" y1="424.4" x2="307.20" y2="427.59999999999997" stroke="#333" stroke-width="1"/>
<line x1="359.82" y1="424.4" x2="359.82" y2="427.59999999999997" stroke="#333" stroke-width="1"/>
<line x1="412.45" y1="424.4" x2="412.45" y2="427.59999999999997" stroke="#333" stroke-width="1"/>
<line x1="465.08" y1="424.4" x2="465.08" y2="427.59999999999997" stroke="#333" stroke-width="1"/>
<line x1="517.70" y1="424.4" x2="517.70" y2="427.59999999999997" stroke="#333" stroke-width="1"/>
<text x="334" y="443.8" text-anchor="middle" font-family="Liberation Sans, sans-serif" font-size="10" fill="#111" stroke="#111" stroke-width="0.3">50</text>
<text x="386.4" y="443.8" text-anchor="middle" font-family="Liberation Sans, sans-serif" font-size="10" fill="#111" stroke="#111" stroke-width="0.3">500</text>
<text x="439.8" y="443.8" text-anchor="middle" font-family="Liberation Sans, sans-serif" font-size="10" fill="#111" stroke="#111" stroke-width="0.3">1000</text>
<text x="492.1" y="443.8" text-anchor="middle" font-family="Liberation Sans, sans-serif" font-size="10" fill="#111" stroke="#111" stroke-width="0.3">2000</text>
<rect x="310.30" y="393.86" width="15.60" height="30.54" fill="#1c1c1c" stroke="#121212" stroke-width="0.9"/>
<rect x="325.90" y="410.69" width="15.60" height="13.71" fill="#444" stroke="#121212" stroke-width="0.9"/>
<line x1="333.70" y1="410.69" x2="333.70" y2="410.05" stroke="#111" stroke-width="1.1"/>
<line x1="330.20" y1="410.05" x2="337.20" y2="410.05" stroke="#111" stroke-width="1.1"/>
<rect x="362.93" y="342.33" width="15.60" height="82.07" fill="#1c1c1c" stroke="#121212" stroke-width="0.9"/>
<line x1="370.73" y1="342.33" x2="370.73" y2="340.83" stroke="#111" stroke-width="1.1"/>
<line x1="367.23" y1="340.83" x2="374.23" y2="340.83" stroke="#111" stroke-width="1.1"/>
<rect x="378.53" y="364.65" width="15.60" height="59.75" fill="#444" stroke="#121212" stroke-width="0.9"/>
<line x1="386.33" y1="364.65" x2="386.33" y2="364.13" stroke="#111" stroke-width="1.1"/>
<line x1="382.83" y1="364.13" x2="389.83" y2="364.13" stroke="#111" stroke-width="1.1"/>
<rect x="394.12" y="422.90" width="15.60" height="1.50" fill="#1c1c1c" stroke="#121212" stroke-width="0.9"/>
<rect x="415.55" y="340.88" width="15.60" height="83.52" fill="#1c1c1c" stroke="#121212" stroke-width="0.9"/>
<line x1="423.35" y1="340.88" x2="423.35" y2="336.38" stroke="#111" stroke-width="1.1"/>
<line x1="419.85" y1="336.38" x2="426.85" y2="336.38" stroke="#111" stroke-width="1.1"/>
<rect x="431.15" y="316.03" width="15.60" height="108.37" fill="#444" stroke="#121212" stroke-width="0.9"/>
<line x1="438.95" y1="316.03" x2="438.95" y2="315.39" stroke="#111" stroke-width="1.1"/>
<line x1="435.45" y1="315.39" x2="442.45" y2="315.39" stroke="#111" stroke-width="1.1"/>
<rect x="446.75" y="422.90" width="15.60" height="1.50" fill="#1c1c1c" stroke="#121212" stroke-width="0.9"/>
<rect x="468.18" y="342.16" width="15.60" height="82.24" fill="#1c1c1c" stroke="#121212" stroke-width="0.9"/>
<line x1="475.98" y1="342.16" x2="475.98" y2="336.81" stroke="#111" stroke-width="1.1"/>
<line x1="472.48" y1="336.81" x2="479.48" y2="336.81" stroke="#111" stroke-width="1.1"/>
<rect x="483.78" y="326.95" width="15.60" height="97.45" fill="#444" stroke="#121212" stroke-width="0.9"/>
<line x1="491.58" y1="326.95" x2="491.58" y2="326.10" stroke="#111" stroke-width="1.1"/>
<line x1="488.08" y1="326.10" x2="495.08" y2="326.10" stroke="#111" stroke-width="1.1"/>
<rect x="499.38" y="422.90" width="15.60" height="1.50" fill="#1c1c1c" stroke="#121212" stroke-width="0.9"/>
<text x="414.6" y="462.5" text-anchor="middle" font-family="Liberation Sans, sans-serif" font-weight="bold" font-size="10.05" fill="#111" stroke="#111" stroke-width="0.25">CXCL11 (ng/mL)</text>
<text transform="translate(281.1,395.2) rotate(-90)" font-family="Liberation Sans, sans-serif" font-weight="bold" font-size="11.6" fill="#111" stroke="#111" stroke-width="0.3" textLength="52.2" lengthAdjust="spacingAndGlyphs">Migration</text>
<text transform="translate(281.1,338.2) rotate(-90)" font-family="Liberation Sans, sans-serif" font-weight="bold" font-size="11.6" fill="#111" stroke="#111" stroke-width="0.3" textLength="16.6" lengthAdjust="spacingAndGlyphs">(%)</text>
<rect x="306.6" y="295.6" width="53" height="54.7" fill="#fff" stroke="#505050" stroke-width="1"/>
<rect x="309.5" y="302.10" width="6" height="6.4" fill="#1c1c1c" stroke="#111" stroke-width="0.9"/>
<text x="319" y="308.2" font-family="Liberation Sans, sans-serif" font-size="10" fill="#111" stroke="#111" stroke-width="0.3">S245A</text>
<rect x="309.5" y="320.20" width="6" height="6.4" fill="#444" stroke="#111" stroke-width="0.9"/>
<text x="319" y="326.5" font-family="Liberation Sans, sans-serif" font-size="10" fill="#111" stroke="#111" stroke-width="0.3">WT</text>
<rect x="309.5" y="339.10" width="6" height="6.4" fill="#1c1c1c" stroke="#111" stroke-width="0.9"/>
<text x="319" y="344.6" font-family="Liberation Sans, sans-serif" font-size="10" fill="#111" stroke="#111" stroke-width="0.3">Parental</text>
</svg>
</body></html>
